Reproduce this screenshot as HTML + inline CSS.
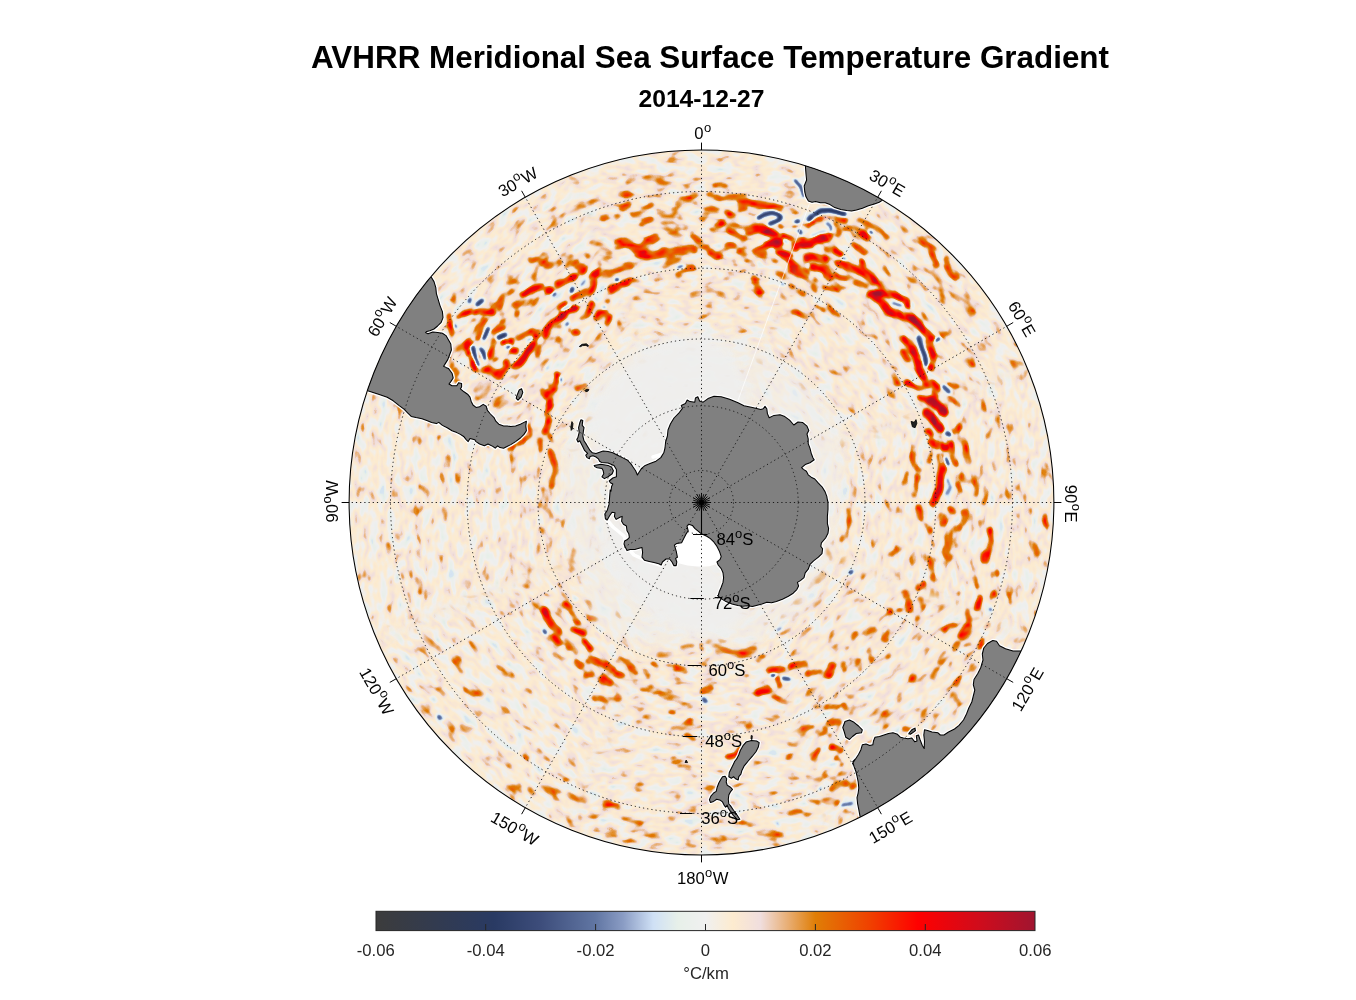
<!DOCTYPE html>
<html><head><meta charset="utf-8"><title>AVHRR Meridional Sea Surface Temperature Gradient</title>
<style>html,body{margin:0;padding:0;background:#fff;}body{width:1356px;height:1000px;overflow:hidden;position:relative;font-family:"Liberation Sans", sans-serif;}svg{position:absolute;left:0;top:0;}text{font-family:"Liberation Sans", sans-serif;}</style></head><body>
<svg width="1356" height="1000" viewBox="0 0 1356 1000">
<defs>
<clipPath id="cc"><circle cx="701.5" cy="502.5" r="352.4"/></clipPath>
<filter id="field" filterUnits="userSpaceOnUse" x="340" y="140" width="724" height="724" color-interpolation-filters="sRGB">
<feGaussianBlur in="SourceGraphic" stdDeviation="1.6" result="s"/>
<feTurbulence type="fractalNoise" baseFrequency="0.06 0.115" numOctaves="2" seed="7" result="t"/>
<feColorMatrix in="t" type="matrix" values="1 0 0 0 0 1 0 0 0 0 1 0 0 0 0 0 0 0 0 1" result="n0"/>
<feComponentTransfer in="n0" result="n"><feFuncR type="table" tableValues="0.139 0.142 0.145 0.148 0.151 0.154 0.157 0.160 0.164 0.167 0.198 0.230 0.262 0.286 0.303 0.321 0.338 0.355 0.372 0.389 0.407 0.426 0.444 0.463 0.481 0.500 0.516 0.532 0.549 0.565 0.581 0.597 0.619 0.640 0.661 0.698 0.736 0.773 0.808 0.839 0.871 0.903 0.903 0.903 0.903 0.903 0.903 0.903 0.903 0.903 0.903"/><feFuncG type="table" tableValues="0.139 0.142 0.145 0.148 0.151 0.154 0.157 0.160 0.164 0.167 0.198 0.230 0.262 0.286 0.303 0.321 0.338 0.355 0.372 0.389 0.407 0.426 0.444 0.463 0.481 0.500 0.516 0.532 0.549 0.565 0.581 0.597 0.619 0.640 0.661 0.698 0.736 0.773 0.808 0.839 0.871 0.903 0.903 0.903 0.903 0.903 0.903 0.903 0.903 0.903 0.903"/><feFuncB type="table" tableValues="0.139 0.142 0.145 0.148 0.151 0.154 0.157 0.160 0.164 0.167 0.198 0.230 0.262 0.286 0.303 0.321 0.338 0.355 0.372 0.389 0.407 0.426 0.444 0.463 0.481 0.500 0.516 0.532 0.549 0.565 0.581 0.597 0.619 0.640 0.661 0.698 0.736 0.773 0.808 0.839 0.871 0.903 0.903 0.903 0.903 0.903 0.903 0.903 0.903 0.903 0.903"/></feComponentTransfer>
<feComposite in="s" in2="n" operator="arithmetic" k1="1.0" k2="0.5000" k3="-0.2000" k4="0.1320" result="f"/>
<feComponentTransfer in="f"><feFuncR type="table" tableValues="0.235 0.231 0.227 0.222 0.218 0.214 0.209 0.205 0.201 0.196 0.192 0.188 0.183 0.179 0.175 0.170 0.166 0.162 0.170 0.182 0.193 0.205 0.216 0.228 0.239 0.257 0.275 0.292 0.310 0.327 0.345 0.363 0.380 0.421 0.461 0.501 0.541 0.603 0.664 0.726 0.787 0.827 0.854 0.880 0.906 0.915 0.924 0.932 0.941 0.954 0.967 0.979 0.992 0.979 0.967 0.954 0.941 0.933 0.925 0.918 0.910 0.902 0.894 0.886 0.878 0.886 0.894 0.902 0.910 0.918 0.925 0.933 0.941 0.950 0.958 0.967 0.975 0.983 0.992 0.999 0.978 0.958 0.937 0.916 0.895 0.874 0.853 0.833 0.812 0.789 0.766 0.743 0.720 0.697 0.674 0.650 0.627"/><feFuncG type="table" tableValues="0.235 0.235 0.234 0.234 0.233 0.233 0.233 0.232 0.232 0.231 0.231 0.230 0.230 0.229 0.229 0.228 0.228 0.228 0.236 0.247 0.258 0.269 0.280 0.291 0.302 0.322 0.342 0.362 0.382 0.402 0.423 0.443 0.463 0.500 0.537 0.575 0.612 0.672 0.733 0.794 0.854 0.889 0.906 0.924 0.941 0.941 0.941 0.941 0.941 0.936 0.931 0.926 0.922 0.909 0.896 0.883 0.871 0.824 0.776 0.729 0.682 0.635 0.588 0.541 0.494 0.464 0.433 0.403 0.373 0.342 0.312 0.281 0.251 0.215 0.179 0.143 0.107 0.071 0.035 0.000 0.005 0.011 0.016 0.021 0.026 0.031 0.037 0.042 0.047 0.051 0.056 0.060 0.065 0.069 0.074 0.078 0.082"/><feFuncB type="table" tableValues="0.235 0.244 0.253 0.262 0.271 0.280 0.289 0.298 0.306 0.315 0.324 0.333 0.342 0.351 0.360 0.369 0.378 0.386 0.399 0.413 0.427 0.441 0.455 0.469 0.482 0.502 0.522 0.541 0.561 0.580 0.600 0.620 0.639 0.672 0.704 0.736 0.769 0.812 0.856 0.900 0.943 0.953 0.940 0.927 0.914 0.921 0.927 0.934 0.941 0.909 0.876 0.844 0.812 0.826 0.841 0.856 0.871 0.767 0.663 0.559 0.455 0.347 0.239 0.131 0.024 0.021 0.018 0.015 0.012 0.009 0.006 0.003 0.000 0.000 0.000 0.000 0.000 0.000 0.000 0.000 0.013 0.025 0.037 0.049 0.061 0.073 0.086 0.098 0.110 0.120 0.129 0.139 0.149 0.159 0.169 0.178 0.188"/></feComponentTransfer>
</filter>
<filter id="wb" filterUnits="userSpaceOnUse" x="340" y="140" width="724" height="724"><feGaussianBlur stdDeviation="7"/></filter>
<filter id="qb" filterUnits="userSpaceOnUse" x="340" y="140" width="724" height="724"><feGaussianBlur stdDeviation="5"/></filter>
<linearGradient id="cb" x1="0" x2="1" y1="0" y2="0">
<stop offset="0.0000" stop-color="#3c3c3c"/>
<stop offset="0.1792" stop-color="#293a63"/>
<stop offset="0.2500" stop-color="#3d4d7b"/>
<stop offset="0.3333" stop-color="#6176a3"/>
<stop offset="0.3750" stop-color="#8a9cc4"/>
<stop offset="0.4208" stop-color="#cfe0f5"/>
<stop offset="0.4583" stop-color="#e7f0e9"/>
<stop offset="0.5000" stop-color="#f0f0f0"/>
<stop offset="0.5417" stop-color="#fdebcf"/>
<stop offset="0.5833" stop-color="#f0dede"/>
<stop offset="0.6250" stop-color="#e8ae74"/>
<stop offset="0.6667" stop-color="#e07e06"/>
<stop offset="0.7500" stop-color="#f04000"/>
<stop offset="0.8225" stop-color="#ff0000"/>
<stop offset="0.9167" stop-color="#cf0c1c"/>
<stop offset="1.0000" stop-color="#a01530"/>
</linearGradient></defs>
<g clip-path="url(#cc)">
<defs><g id="src">
<rect x="340" y="140" width="724" height="724" fill="#808080"/>
<path d="M701.5,157.2 L876.5,199.1 L1004.6,327.2 L1051.5,502.2 L995.9,672.2 L869.0,792.3 L701.5,852.2 L583.5,826.4 L558.1,707.0 L515.3,609.7 L486.5,502.2 L485.4,423.5 L476.3,372.2 L448.7,290.1 L531.5,207.8Z M701.5,317.2 L786.5,355.0 L844.4,419.7 L851.5,502.2 L831.4,577.2 L776.5,632.1 L701.5,652.2 L621.5,640.8 L580.3,572.2 L556.5,502.2 L558.6,419.7 L606.5,337.7Z" fill="#828282" fill-rule="evenodd"/>
<path d="M561.1,216.1 L571.9,211.6 L584.5,206.2" fill="none" stroke="#9e9e9e" stroke-width="4" stroke-linecap="round" stroke-linejoin="round"/>
<path d="M541.2,213.1 L548.5,209.8 L555.7,208.4" fill="none" stroke="#9c9c9c" stroke-width="3" stroke-linecap="round" stroke-linejoin="round"/>
<path d="M518.7,226.9 L522.3,223.3 L525.0,219.7" fill="none" stroke="#9f9f9f" stroke-width="3" stroke-linecap="round" stroke-linejoin="round"/>
<path d="M533.1,229.6 L537.6,227.5" fill="none" stroke="#9c9c9c" stroke-width="3" stroke-linecap="round" stroke-linejoin="round"/>
<path d="M460.2,267.4 L464.7,262.9 L469.2,260.2" fill="none" stroke="#9e9e9e" stroke-width="4" stroke-linecap="round" stroke-linejoin="round"/>
<path d="M498.9,250.3 L503.4,247.3" fill="none" stroke="#9c9c9c" stroke-width="3" stroke-linecap="round" stroke-linejoin="round"/>
<path d="M504.3,289.0 L507.9,283.6 L514.2,281.5 L518.7,282.7" fill="none" stroke="#a3a3a3" stroke-width="4" stroke-linecap="round" stroke-linejoin="round"/>
<path d="M612.0,291.7 L621.0,285.1 L630.9,280.0" fill="none" stroke="#b4b4b4" stroke-width="5" stroke-linecap="round" stroke-linejoin="round"/>
<path d="M794.8,180.1 L800.7,186.8 L803.8,196.3" fill="none" stroke="#1d1d1d" stroke-width="2.5" stroke-linecap="round" stroke-linejoin="round"/>
<path d="M691.2,294.8 L700.2,293.0 L711.0,290.5 L721.8,294.8 L728.1,299.5" fill="none" stroke="#9a9a9a" stroke-width="5" stroke-linecap="round" stroke-linejoin="round"/>
<path d="M733.5,300.2 L740.2,298.0" fill="none" stroke="#9e9e9e" stroke-width="4" stroke-linecap="round" stroke-linejoin="round"/>
<path d="M781.2,294.4 L786.7,302.0" fill="none" stroke="#9e9e9e" stroke-width="4" stroke-linecap="round" stroke-linejoin="round"/>
<path d="M793.9,312.4 L801.1,314.6 L806.8,317.5" fill="none" stroke="#b4b4b4" stroke-width="5" stroke-linecap="round" stroke-linejoin="round"/>
<path d="M816.4,306.1 L822.7,310.6" fill="none" stroke="#b4b4b4" stroke-width="5" stroke-linecap="round" stroke-linejoin="round"/>
<path d="M859.2,220.3 L867.3,224.2 L877.2,228.2 L887.1,237.7" fill="none" stroke="#a6a6a6" stroke-width="5" stroke-linecap="round" stroke-linejoin="round"/>
<path d="M870.0,231.4 L871.8,232.9" fill="none" stroke="#1e1e1e" stroke-width="3.0" stroke-linecap="round" stroke-linejoin="round"/>
<path d="M860.1,232.3 L867.3,238.3" fill="none" stroke="#cfcfcf" stroke-width="5" stroke-linecap="round" stroke-linejoin="round"/>
<path d="M842.1,230.5 L852.0,226.9 L859.2,230.5" fill="none" stroke="#a8a8a8" stroke-width="4" stroke-linecap="round" stroke-linejoin="round"/>
<path d="M834.0,250.3 L840.3,253.9" fill="none" stroke="#dcdcdc" stroke-width="6" stroke-linecap="round" stroke-linejoin="round"/>
<path d="M843.0,258.4 L844.8,260.2" fill="none" stroke="#1e1e1e" stroke-width="3.0" stroke-linecap="round" stroke-linejoin="round"/>
<path d="M852.0,244.4 L861.0,249.1 L865.0,253.4" fill="none" stroke="#c3c3c3" stroke-width="5" stroke-linecap="round" stroke-linejoin="round"/>
<path d="M837.6,262.9 L839.4,264.7" fill="none" stroke="#d8d8d8" stroke-width="5" stroke-linecap="round" stroke-linejoin="round"/>
<path d="M842.1,263.8 L852.9,269.2 L862.8,271.4 L870.0,276.8 L873.6,280.9" fill="none" stroke="#c6c6c6" stroke-width="8" stroke-linecap="round" stroke-linejoin="round"/>
<path d="M861.9,261.1 L863.2,269.2" fill="none" stroke="#c3c3c3" stroke-width="5" stroke-linecap="round" stroke-linejoin="round"/>
<path d="M825.0,275.5 L830.4,277.3" fill="none" stroke="#cfcfcf" stroke-width="5" stroke-linecap="round" stroke-linejoin="round"/>
<path d="M835.8,275.5 L844.8,279.1" fill="none" stroke="#b4b4b4" stroke-width="5" stroke-linecap="round" stroke-linejoin="round"/>
<path d="M855.6,282.7 L866.4,285.8" fill="none" stroke="#b4b4b4" stroke-width="5" stroke-linecap="round" stroke-linejoin="round"/>
<path d="M825.0,287.6 L835.8,289.4 L848.4,287.2" fill="none" stroke="#a8a8a8" stroke-width="4" stroke-linecap="round" stroke-linejoin="round"/>
<path d="M884.4,267.8 L889.5,275.0" fill="none" stroke="#a6a6a6" stroke-width="5" stroke-linecap="round" stroke-linejoin="round"/>
<path d="M879.0,284.0 L886.2,291.2 L894.3,293.0" fill="none" stroke="#a6a6a6" stroke-width="5" stroke-linecap="round" stroke-linejoin="round"/>
<path d="M870.0,294.4 L882.6,293.5 L897.0,295.9 L906.0,299.8 L908.2,305.2" fill="none" stroke="#dcdcdc" stroke-width="6" stroke-linecap="round" stroke-linejoin="round"/>
<path d="M874.5,297.1 L884.4,305.6 L888.9,311.5 L900.6,314.6 L911.4,318.2 L919.5,325.0" fill="none" stroke="#dddddd" stroke-width="7" stroke-linecap="round" stroke-linejoin="round"/>
<path d="M892.5,303.1 L901.5,305.6" fill="none" stroke="#3e3e3e" stroke-width="3.0" stroke-linecap="round" stroke-linejoin="round"/>
<path d="M911.4,303.4 L912.3,307.0" fill="none" stroke="#3e3e3e" stroke-width="2.5" stroke-linecap="round" stroke-linejoin="round"/>
<path d="M904.2,226.9 L907.8,231.4" fill="none" stroke="#989898" stroke-width="7" stroke-linecap="round" stroke-linejoin="round"/>
<path d="M911.4,240.4 L922.2,243.7 L931.2,246.2 L936.6,249.8" fill="none" stroke="#a4a4a4" stroke-width="5" stroke-linecap="round" stroke-linejoin="round"/>
<path d="M931.2,250.3 L933.0,257.5 L936.3,264.7" fill="none" stroke="#b6b6b6" stroke-width="6" stroke-linecap="round" stroke-linejoin="round"/>
<path d="M946.0,259.3 L947.4,269.2 L951.0,276.4 L956.1,278.6" fill="none" stroke="#b9b9b9" stroke-width="6" stroke-linecap="round" stroke-linejoin="round"/>
<path d="M933.0,271.0 L940.2,282.2 L942.0,294.4 L943.8,303.4" fill="none" stroke="#989898" stroke-width="5" stroke-linecap="round" stroke-linejoin="round"/>
<path d="M921.3,283.6 L925.8,289.9" fill="none" stroke="#9e9e9e" stroke-width="4" stroke-linecap="round" stroke-linejoin="round"/>
<path d="M951.9,285.4 L953.7,288.1" fill="none" stroke="#9f9f9f" stroke-width="5" stroke-linecap="round" stroke-linejoin="round"/>
<path d="M965.4,296.2 L967.2,305.2 L971.7,312.4" fill="none" stroke="#9c9c9c" stroke-width="8" stroke-linecap="round" stroke-linejoin="round"/>
<path d="M952.8,295.9 L959.1,300.2" fill="none" stroke="#9a9a9a" stroke-width="5" stroke-linecap="round" stroke-linejoin="round"/>
<path d="M894.3,216.1 L898.8,217.0" fill="none" stroke="#989898" stroke-width="4" stroke-linecap="round" stroke-linejoin="round"/>
<path d="M829.5,307.0 L837.6,315.1" fill="none" stroke="#a6a6a6" stroke-width="5" stroke-linecap="round" stroke-linejoin="round"/>
<path d="M862.8,313.3 L863.7,323.2" fill="none" stroke="#a3a3a3" stroke-width="4" stroke-linecap="round" stroke-linejoin="round"/>
<path d="M922.2,311.5 L924.0,315.1" fill="none" stroke="#a3a3a3" stroke-width="4" stroke-linecap="round" stroke-linejoin="round"/>
<path d="M570.1,329.5 L577.3,332.6" fill="none" stroke="#bfbfbf" stroke-width="6" stroke-linecap="round" stroke-linejoin="round"/>
<path d="M543.0,392.0 L548.5,397.4 L550.3,406.0 L547.6,415.0 L548.5,424.4 L544.8,431.6" fill="none" stroke="#c6c6c6" stroke-width="6" stroke-linecap="round" stroke-linejoin="round"/>
<path d="M539.4,440.2 L540.3,449.6" fill="none" stroke="#aeaeae" stroke-width="5" stroke-linecap="round" stroke-linejoin="round"/>
<path d="M548.5,433.4 L552.1,440.6" fill="none" stroke="#b4b4b4" stroke-width="4" stroke-linecap="round" stroke-linejoin="round"/>
<path d="M550.3,451.0 L553.9,462.2 L556.6,469.4 L553.5,476.6 L552.1,485.6" fill="none" stroke="#b1b1b1" stroke-width="6" stroke-linecap="round" stroke-linejoin="round"/>
<path d="M543.9,489.7 L547.6,505.0" fill="none" stroke="#9f9f9f" stroke-width="5" stroke-linecap="round" stroke-linejoin="round"/>
<path d="M577.3,388.9 L585.0,384.8" fill="none" stroke="#b4b4b4" stroke-width="4" stroke-linecap="round" stroke-linejoin="round"/>
<path d="M477.3,397.9 L481.8,396.1" fill="none" stroke="#ababab" stroke-width="6" stroke-linecap="round" stroke-linejoin="round"/>
<path d="M471.0,379.0 L481.8,386.2 L489.0,384.4" fill="none" stroke="#8e8e8e" stroke-width="12" stroke-linecap="round" stroke-linejoin="round"/>
<path d="M496.2,404.2 L507.0,402.4 L517.8,405.1" fill="none" stroke="#8e8e8e" stroke-width="10" stroke-linecap="round" stroke-linejoin="round"/>
<path d="M528.6,425.8 L530.4,435.2 L522.3,442.0 L507.9,449.2" fill="none" stroke="#b4b4b4" stroke-width="4" stroke-linecap="round" stroke-linejoin="round"/>
<path d="M449.8,457.9 L448.5,465.8" fill="none" stroke="#9a9a9a" stroke-width="5" stroke-linecap="round" stroke-linejoin="round"/>
<path d="M467.1,462.7 L468.3,467.2" fill="none" stroke="#9e9e9e" stroke-width="4" stroke-linecap="round" stroke-linejoin="round"/>
<path d="M421.5,487.0 L426.0,491.5" fill="none" stroke="#989898" stroke-width="5" stroke-linecap="round" stroke-linejoin="round"/>
<path d="M456.3,474.4 L457.5,482.0" fill="none" stroke="#9b9b9b" stroke-width="4" stroke-linecap="round" stroke-linejoin="round"/>
<path d="M437.7,437.5 L444.0,435.2" fill="none" stroke="#9b9b9b" stroke-width="4" stroke-linecap="round" stroke-linejoin="round"/>
<path d="M449.4,436.6 L451.2,447.8" fill="none" stroke="#656565" stroke-width="3.0" stroke-linecap="round" stroke-linejoin="round"/>
<path d="M918.6,325.0 L925.8,332.2 L931.6,338.0" fill="none" stroke="#dddddd" stroke-width="7" stroke-linecap="round" stroke-linejoin="round"/>
<path d="M918.6,337.6 L921.3,347.0 L924.9,356.0 L926.2,365.0" fill="none" stroke="#212121" stroke-width="4.0" stroke-linecap="round" stroke-linejoin="round"/>
<path d="M935.7,340.8 L939.3,338.5" fill="none" stroke="#1e1e1e" stroke-width="3.0" stroke-linecap="round" stroke-linejoin="round"/>
<path d="M928.0,341.6 L931.6,350.6 L933.4,359.6 L930.9,367.9" fill="none" stroke="#cacaca" stroke-width="6" stroke-linecap="round" stroke-linejoin="round"/>
<path d="M904.2,339.0 L910.0,343.0 L913.6,350.6 L917.2,359.6 L919.0,368.2 L923.7,377.6" fill="none" stroke="#cbcbcb" stroke-width="7" stroke-linecap="round" stroke-linejoin="round"/>
<path d="M902.4,352.0 L908.2,359.6" fill="none" stroke="#c3c3c3" stroke-width="5" stroke-linecap="round" stroke-linejoin="round"/>
<path d="M906.9,382.6 L915.0,386.6 L920.8,388.9" fill="none" stroke="#cfcfcf" stroke-width="5" stroke-linecap="round" stroke-linejoin="round"/>
<path d="M925.8,384.8 L933.0,383.0 L937.0,387.1 L935.2,395.6" fill="none" stroke="#bdbdbd" stroke-width="7" stroke-linecap="round" stroke-linejoin="round"/>
<path d="M893.4,375.4 L897.4,383.0" fill="none" stroke="#a6a6a6" stroke-width="5" stroke-linecap="round" stroke-linejoin="round"/>
<path d="M930.3,400.3 L938.4,406.4 L943.5,412.3" fill="none" stroke="#e1e1e1" stroke-width="8" stroke-linecap="round" stroke-linejoin="round"/>
<path d="M919.5,397.4 L925.8,399.2" fill="none" stroke="#c3c3c3" stroke-width="5" stroke-linecap="round" stroke-linejoin="round"/>
<path d="M943.5,386.6 L949.2,392.0" fill="none" stroke="#2f2f2f" stroke-width="4.0" stroke-linecap="round" stroke-linejoin="round"/>
<path d="M948.9,383.0 L956.8,387.1" fill="none" stroke="#cbcbcb" stroke-width="4" stroke-linecap="round" stroke-linejoin="round"/>
<path d="M949.2,397.4 L956.4,402.8 L959.1,406.4" fill="none" stroke="#bababa" stroke-width="4" stroke-linecap="round" stroke-linejoin="round"/>
<path d="M926.7,412.9 L934.8,420.4 L940.6,428.0" fill="none" stroke="#e1e1e1" stroke-width="8" stroke-linecap="round" stroke-linejoin="round"/>
<path d="M928.0,431.2 L931.2,435.2" fill="none" stroke="#cfcfcf" stroke-width="5" stroke-linecap="round" stroke-linejoin="round"/>
<path d="M931.2,442.0 L937.5,445.3 L944.2,447.8" fill="none" stroke="#d0d0d0" stroke-width="7" stroke-linecap="round" stroke-linejoin="round"/>
<path d="M947.1,433.4 L949.6,434.5" fill="none" stroke="#212121" stroke-width="4.0" stroke-linecap="round" stroke-linejoin="round"/>
<path d="M953.7,431.2 L959.7,427.3" fill="none" stroke="#b1b1b1" stroke-width="6" stroke-linecap="round" stroke-linejoin="round"/>
<path d="M961.8,438.8 L967.2,446.0 L965.8,455.0 L969.4,462.2" fill="none" stroke="#a4a4a4" stroke-width="6" stroke-linecap="round" stroke-linejoin="round"/>
<path d="M951.0,444.2 L952.8,455.0 L956.8,464.0" fill="none" stroke="#b1b1b1" stroke-width="6" stroke-linecap="round" stroke-linejoin="round"/>
<path d="M945.3,458.2 L948.3,464.5" fill="none" stroke="#1e1e1e" stroke-width="3.0" stroke-linecap="round" stroke-linejoin="round"/>
<path d="M940.2,456.4 L942.4,469.0 L939.5,479.8 L940.2,487.4 L936.6,496.4 L933.0,503.6" fill="none" stroke="#cbcbcb" stroke-width="7" stroke-linecap="round" stroke-linejoin="round"/>
<path d="M947.4,479.5 L951.0,487.0 L946.0,494.2" fill="none" stroke="#4f4f4f" stroke-width="3.0" stroke-linecap="round" stroke-linejoin="round"/>
<path d="M913.2,455.0 L915.0,465.8 L919.0,469.4" fill="none" stroke="#ababab" stroke-width="6" stroke-linecap="round" stroke-linejoin="round"/>
<path d="M906.4,474.1 L904.2,482.0" fill="none" stroke="#a6a6a6" stroke-width="6" stroke-linecap="round" stroke-linejoin="round"/>
<path d="M917.2,476.6 L916.8,489.2 L915.0,494.6" fill="none" stroke="#a6a6a6" stroke-width="6" stroke-linecap="round" stroke-linejoin="round"/>
<path d="M931.6,454.6 L929.4,462.2" fill="none" stroke="#a3a3a3" stroke-width="4" stroke-linecap="round" stroke-linejoin="round"/>
<path d="M961.5,475.9 L965.8,482.0" fill="none" stroke="#a6a6a6" stroke-width="6" stroke-linecap="round" stroke-linejoin="round"/>
<path d="M958.2,484.3 L962.2,491.0" fill="none" stroke="#a4a4a4" stroke-width="5" stroke-linecap="round" stroke-linejoin="round"/>
<path d="M972.6,481.6 L978.0,485.6 L976.2,494.6" fill="none" stroke="#a4a4a4" stroke-width="5" stroke-linecap="round" stroke-linejoin="round"/>
<path d="M983.8,487.0 L987.0,494.6 L983.8,503.2" fill="none" stroke="#a4a4a4" stroke-width="5" stroke-linecap="round" stroke-linejoin="round"/>
<path d="M964.5,343.9 L969.0,348.4" fill="none" stroke="#9d9d9d" stroke-width="6" stroke-linecap="round" stroke-linejoin="round"/>
<path d="M966.3,360.1 L971.2,365.0" fill="none" stroke="#9d9d9d" stroke-width="6" stroke-linecap="round" stroke-linejoin="round"/>
<path d="M1012.6,362.4 L1014.9,368.6" fill="none" stroke="#9d9d9d" stroke-width="6" stroke-linecap="round" stroke-linejoin="round"/>
<path d="M963.3,384.1 L965.8,388.4" fill="none" stroke="#9a9a9a" stroke-width="5" stroke-linecap="round" stroke-linejoin="round"/>
<path d="M981.3,400.6 L983.4,410.0" fill="none" stroke="#9a9a9a" stroke-width="5" stroke-linecap="round" stroke-linejoin="round"/>
<path d="M992.4,411.8 L995.1,418.6" fill="none" stroke="#9a9a9a" stroke-width="5" stroke-linecap="round" stroke-linejoin="round"/>
<path d="M983.4,422.6 L990.3,428.0 L987.4,437.0" fill="none" stroke="#9f9f9f" stroke-width="5" stroke-linecap="round" stroke-linejoin="round"/>
<path d="M992.4,462.2 L994.2,469.4" fill="none" stroke="#9a9a9a" stroke-width="5" stroke-linecap="round" stroke-linejoin="round"/>
<path d="M1046.5,464.0 L1048.3,469.0" fill="none" stroke="#9b9b9b" stroke-width="4" stroke-linecap="round" stroke-linejoin="round"/>
<path d="M865.5,335.4 L877.2,338.0" fill="none" stroke="#9e9e9e" stroke-width="4" stroke-linecap="round" stroke-linejoin="round"/>
<path d="M942.9,334.9 L949.2,332.6" fill="none" stroke="#a6a6a6" stroke-width="5" stroke-linecap="round" stroke-linejoin="round"/>
<path d="M895.6,333.1 L900.6,339.8" fill="none" stroke="#a3a3a3" stroke-width="4" stroke-linecap="round" stroke-linejoin="round"/>
<path d="M443.7,507.7 L445.8,520.3" fill="none" stroke="#9e9e9e" stroke-width="4" stroke-linecap="round" stroke-linejoin="round"/>
<path d="M420.6,511.3 L424.2,506.8" fill="none" stroke="#9b9b9b" stroke-width="4" stroke-linecap="round" stroke-linejoin="round"/>
<path d="M393.3,532.0 L397.2,539.6" fill="none" stroke="#969696" stroke-width="5" stroke-linecap="round" stroke-linejoin="round"/>
<path d="M388.2,544.2 L389.1,552.2" fill="none" stroke="#9a9a9a" stroke-width="5" stroke-linecap="round" stroke-linejoin="round"/>
<path d="M417.9,550.0 L418.8,559.0" fill="none" stroke="#9b9b9b" stroke-width="4" stroke-linecap="round" stroke-linejoin="round"/>
<path d="M398.7,573.1 L404.8,579.2" fill="none" stroke="#9e9e9e" stroke-width="4" stroke-linecap="round" stroke-linejoin="round"/>
<path d="M417.9,578.8 L420.6,586.0 L418.8,591.8" fill="none" stroke="#999999" stroke-width="6" stroke-linecap="round" stroke-linejoin="round"/>
<path d="M408.0,609.4 L410.7,617.0" fill="none" stroke="#a4a4a4" stroke-width="5" stroke-linecap="round" stroke-linejoin="round"/>
<path d="M417.0,631.0 L426.0,638.6 L435.0,644.0 L442.2,651.2" fill="none" stroke="#999999" stroke-width="6" stroke-linecap="round" stroke-linejoin="round"/>
<path d="M448.5,622.0 L450.3,627.8" fill="none" stroke="#9b9b9b" stroke-width="4" stroke-linecap="round" stroke-linejoin="round"/>
<path d="M467.1,581.5 L467.8,588.2" fill="none" stroke="#989898" stroke-width="5" stroke-linecap="round" stroke-linejoin="round"/>
<path d="M497.1,601.3 L498.9,605.8" fill="none" stroke="#989898" stroke-width="5" stroke-linecap="round" stroke-linejoin="round"/>
<path d="M471.0,641.8 L476.4,651.2" fill="none" stroke="#9a9a9a" stroke-width="5" stroke-linecap="round" stroke-linejoin="round"/>
<path d="M456.6,661.6 L462.0,671.0" fill="none" stroke="#9d9d9d" stroke-width="6" stroke-linecap="round" stroke-linejoin="round"/>
<path d="M503.4,673.9 L511.5,676.0" fill="none" stroke="#9a9a9a" stroke-width="5" stroke-linecap="round" stroke-linejoin="round"/>
<path d="M504.3,658.9 L506.1,661.3" fill="none" stroke="#9b9b9b" stroke-width="4" stroke-linecap="round" stroke-linejoin="round"/>
<path d="M438.6,679.3 L442.2,685.0" fill="none" stroke="#9a9a9a" stroke-width="5" stroke-linecap="round" stroke-linejoin="round"/>
<path d="M528.6,563.5 L529.0,570.7" fill="none" stroke="#9a9a9a" stroke-width="5" stroke-linecap="round" stroke-linejoin="round"/>
<path d="M520.5,586.0 L527.2,586.9" fill="none" stroke="#9a9a9a" stroke-width="5" stroke-linecap="round" stroke-linejoin="round"/>
<path d="M536.7,540.6 L539.8,554.0" fill="none" stroke="#9a9a9a" stroke-width="5" stroke-linecap="round" stroke-linejoin="round"/>
<path d="M550.3,510.4 L556.0,519.8" fill="none" stroke="#9d9d9d" stroke-width="6" stroke-linecap="round" stroke-linejoin="round"/>
<path d="M541.2,528.4 L548.5,537.8" fill="none" stroke="#9a9a9a" stroke-width="5" stroke-linecap="round" stroke-linejoin="round"/>
<path d="M574.0,551.5 L570.1,563.0 L571.9,570.2" fill="none" stroke="#9f9f9f" stroke-width="5" stroke-linecap="round" stroke-linejoin="round"/>
<path d="M578.2,577.9 L580.0,582.4" fill="none" stroke="#9a9a9a" stroke-width="5" stroke-linecap="round" stroke-linejoin="round"/>
<path d="M558.9,583.3 L561.1,587.8" fill="none" stroke="#9e9e9e" stroke-width="4" stroke-linecap="round" stroke-linejoin="round"/>
<path d="M544.8,594.7 L549.4,595.9" fill="none" stroke="#9e9e9e" stroke-width="4" stroke-linecap="round" stroke-linejoin="round"/>
<path d="M533.7,609.4 L534.4,613.9" fill="none" stroke="#9e9e9e" stroke-width="4" stroke-linecap="round" stroke-linejoin="round"/>
<path d="M520.5,612.1 L522.3,615.7" fill="none" stroke="#9b9b9b" stroke-width="4" stroke-linecap="round" stroke-linejoin="round"/>
<path d="M544.8,610.3 L548.5,620.2 L553.9,627.8 L557.5,631.4" fill="none" stroke="#bfbfbf" stroke-width="8" stroke-linecap="round" stroke-linejoin="round"/>
<path d="M565.6,604.9 L569.2,607.6" fill="none" stroke="#bfbfbf" stroke-width="6" stroke-linecap="round" stroke-linejoin="round"/>
<path d="M572.2,612.7 L577.6,622.4" fill="none" stroke="#b9b9b9" stroke-width="6" stroke-linecap="round" stroke-linejoin="round"/>
<path d="M572.8,629.2 L583.6,633.2" fill="none" stroke="#c3c3c3" stroke-width="5" stroke-linecap="round" stroke-linejoin="round"/>
<path d="M555.7,637.3 L559.3,642.2" fill="none" stroke="#c6c6c6" stroke-width="8" stroke-linecap="round" stroke-linejoin="round"/>
<path d="M565.0,642.7 L568.3,647.6" fill="none" stroke="#c0c0c0" stroke-width="7" stroke-linecap="round" stroke-linejoin="round"/>
<path d="M543.9,630.7 L545.8,633.2" fill="none" stroke="#1e1e1e" stroke-width="3.0" stroke-linecap="round" stroke-linejoin="round"/>
<path d="M574.6,597.7 L576.4,599.5" fill="none" stroke="#585858" stroke-width="2.5" stroke-linecap="round" stroke-linejoin="round"/>
<path d="M553.0,654.8 L565.6,658.4" fill="none" stroke="#a9a9a9" stroke-width="5" stroke-linecap="round" stroke-linejoin="round"/>
<path d="M576.4,663.1 L580.0,665.6" fill="none" stroke="#bdbdbd" stroke-width="7" stroke-linecap="round" stroke-linejoin="round"/>
<path d="M572.8,649.0 L577.3,653.0" fill="none" stroke="#a8a8a8" stroke-width="4" stroke-linecap="round" stroke-linejoin="round"/>
<path d="M681.3,648.1 L693.0,645.4" fill="none" stroke="#a4a4a4" stroke-width="5" stroke-linecap="round" stroke-linejoin="round"/>
<path d="M701.1,646.3 L702.9,648.1" fill="none" stroke="#b6b6b6" stroke-width="6" stroke-linecap="round" stroke-linejoin="round"/>
<path d="M709.2,643.3 L718.2,649.0 L729.0,651.2 L738.0,654.8 L747.0,651.2 L754.2,649.0" fill="none" stroke="#aaaaaa" stroke-width="7" stroke-linecap="round" stroke-linejoin="round"/>
<path d="M658.8,655.3 L671.4,654.1" fill="none" stroke="#9f9f9f" stroke-width="5" stroke-linecap="round" stroke-linejoin="round"/>
<path d="M676.8,667.9 L685.8,671.0" fill="none" stroke="#ababab" stroke-width="6" stroke-linecap="round" stroke-linejoin="round"/>
<path d="M653.1,663.4 L657.0,667.9" fill="none" stroke="#a9a9a9" stroke-width="5" stroke-linecap="round" stroke-linejoin="round"/>
<path d="M585.0,642.2 L590.4,649.0" fill="none" stroke="#bfbfbf" stroke-width="6" stroke-linecap="round" stroke-linejoin="round"/>
<path d="M589.5,660.2 L600.3,662.0" fill="none" stroke="#b7b7b7" stroke-width="7" stroke-linecap="round" stroke-linejoin="round"/>
<path d="M606.2,664.9 L612.4,669.2" fill="none" stroke="#c4c4c4" stroke-width="7" stroke-linecap="round" stroke-linejoin="round"/>
<path d="M618.8,660.2 L626.8,662.5" fill="none" stroke="#b6b6b6" stroke-width="6" stroke-linecap="round" stroke-linejoin="round"/>
<path d="M630.0,665.6 L635.4,672.8" fill="none" stroke="#b1b1b1" stroke-width="6" stroke-linecap="round" stroke-linejoin="round"/>
<path d="M616.5,674.2 L621.9,676.0" fill="none" stroke="#b1b1b1" stroke-width="6" stroke-linecap="round" stroke-linejoin="round"/>
<path d="M602.6,679.3 L608.8,683.2" fill="none" stroke="#c7c7c7" stroke-width="7" stroke-linecap="round" stroke-linejoin="round"/>
<path d="M644.4,671.0 L648.0,676.4" fill="none" stroke="#a9a9a9" stroke-width="5" stroke-linecap="round" stroke-linejoin="round"/>
<path d="M585.0,676.0 L592.2,674.2" fill="none" stroke="#a9a9a9" stroke-width="5" stroke-linecap="round" stroke-linejoin="round"/>
<path d="M757.5,660.2 L763.2,656.2" fill="none" stroke="#a9a9a9" stroke-width="5" stroke-linecap="round" stroke-linejoin="round"/>
<path d="M769.5,670.3 L782.1,668.8" fill="none" stroke="#c2c2c2" stroke-width="6" stroke-linecap="round" stroke-linejoin="round"/>
<path d="M790.3,665.6 L805.6,664.3" fill="none" stroke="#bfbfbf" stroke-width="6" stroke-linecap="round" stroke-linejoin="round"/>
<path d="M808.3,674.6 L820.0,671.5" fill="none" stroke="#b4b4b4" stroke-width="5" stroke-linecap="round" stroke-linejoin="round"/>
<path d="M772.2,675.1 L775.8,676.0" fill="none" stroke="#212121" stroke-width="4.0" stroke-linecap="round" stroke-linejoin="round"/>
<path d="M783.0,678.2 L789.4,679.3" fill="none" stroke="#1e1e1e" stroke-width="3.0" stroke-linecap="round" stroke-linejoin="round"/>
<path d="M777.3,678.2 L779.4,685.0" fill="none" stroke="#c3c3c3" stroke-width="5" stroke-linecap="round" stroke-linejoin="round"/>
<path d="M796.6,603.1 L805.0,598.6" fill="none" stroke="#a4a4a4" stroke-width="5" stroke-linecap="round" stroke-linejoin="round"/>
<path d="M783.0,616.6 L788.5,615.2 L795.7,613.0" fill="none" stroke="#a2a2a2" stroke-width="6" stroke-linecap="round" stroke-linejoin="round"/>
<path d="M816.4,581.5 L825.0,574.3" fill="none" stroke="#9f9f9f" stroke-width="5" stroke-linecap="round" stroke-linejoin="round"/>
<path d="M807.4,588.7 L812.2,584.2" fill="none" stroke="#9e9e9e" stroke-width="4" stroke-linecap="round" stroke-linejoin="round"/>
<path d="M782.1,633.7 L789.4,629.2" fill="none" stroke="#9f9f9f" stroke-width="5" stroke-linecap="round" stroke-linejoin="round"/>
<path d="M802.0,631.9 L810.1,627.4" fill="none" stroke="#9a9a9a" stroke-width="5" stroke-linecap="round" stroke-linejoin="round"/>
<path d="M777.6,630.1 L781.2,628.3" fill="none" stroke="#3e3e3e" stroke-width="3.0" stroke-linecap="round" stroke-linejoin="round"/>
<path d="M744.3,672.4 L747.0,674.2" fill="none" stroke="#b4b4b4" stroke-width="5" stroke-linecap="round" stroke-linejoin="round"/>
<path d="M594.0,517.6 L599.4,525.2" fill="none" stroke="#9b9b9b" stroke-width="4" stroke-linecap="round" stroke-linejoin="round"/>
<path d="M588.6,602.2 L590.4,609.8" fill="none" stroke="#9a9a9a" stroke-width="5" stroke-linecap="round" stroke-linejoin="round"/>
<path d="M589.5,617.0 L595.8,620.6" fill="none" stroke="#9b9b9b" stroke-width="4" stroke-linecap="round" stroke-linejoin="round"/>
<path d="M847.5,510.4 L848.4,523.0 L844.8,536.0 L842.1,539.6" fill="none" stroke="#a6a6a6" stroke-width="6" stroke-linecap="round" stroke-linejoin="round"/>
<path d="M827.7,550.9 L830.4,559.0" fill="none" stroke="#9f9f9f" stroke-width="5" stroke-linecap="round" stroke-linejoin="round"/>
<path d="M850.2,573.4 L852.0,571.3" fill="none" stroke="#1e1e1e" stroke-width="3.0" stroke-linecap="round" stroke-linejoin="round"/>
<path d="M861.9,577.9 L863.7,575.6" fill="none" stroke="#a3a3a3" stroke-width="4" stroke-linecap="round" stroke-linejoin="round"/>
<path d="M918.6,507.7 L920.4,518.0" fill="none" stroke="#ababab" stroke-width="6" stroke-linecap="round" stroke-linejoin="round"/>
<path d="M926.7,524.4 L929.8,530.6" fill="none" stroke="#a4a4a4" stroke-width="5" stroke-linecap="round" stroke-linejoin="round"/>
<path d="M942.0,515.4 L942.9,523.0" fill="none" stroke="#b1b1b1" stroke-width="6" stroke-linecap="round" stroke-linejoin="round"/>
<path d="M949.2,507.7 L954.6,512.6" fill="none" stroke="#a9a9a9" stroke-width="5" stroke-linecap="round" stroke-linejoin="round"/>
<path d="M964.5,512.2 L967.2,518.0 L959.1,526.6 L951.0,530.2 L947.4,537.8 L949.2,546.8 L943.8,552.2 L948.9,557.6" fill="none" stroke="#aaaaaa" stroke-width="7" stroke-linecap="round" stroke-linejoin="round"/>
<path d="M929.4,558.1 L931.2,568.4 L933.0,576.1" fill="none" stroke="#a9a9a9" stroke-width="5" stroke-linecap="round" stroke-linejoin="round"/>
<path d="M933.0,577.0 L934.5,579.2" fill="none" stroke="#c2c2c2" stroke-width="6" stroke-linecap="round" stroke-linejoin="round"/>
<path d="M935.7,559.0 L942.9,563.0" fill="none" stroke="#9f9f9f" stroke-width="5" stroke-linecap="round" stroke-linejoin="round"/>
<path d="M923.1,583.3 L919.0,588.2" fill="none" stroke="#c6c6c6" stroke-width="6" stroke-linecap="round" stroke-linejoin="round"/>
<path d="M904.2,592.9 L907.8,600.4 L909.6,609.8" fill="none" stroke="#afafaf" stroke-width="7" stroke-linecap="round" stroke-linejoin="round"/>
<path d="M920.1,598.3 L923.1,606.2" fill="none" stroke="#a4a4a4" stroke-width="5" stroke-linecap="round" stroke-linejoin="round"/>
<path d="M887.1,608.0 L890.7,611.6" fill="none" stroke="#a9a9a9" stroke-width="5" stroke-linecap="round" stroke-linejoin="round"/>
<path d="M897.9,609.1 L900.6,610.3" fill="none" stroke="#a8a8a8" stroke-width="4" stroke-linecap="round" stroke-linejoin="round"/>
<path d="M901.5,622.9 L905.1,620.2" fill="none" stroke="#a8a8a8" stroke-width="4" stroke-linecap="round" stroke-linejoin="round"/>
<path d="M885.3,628.3 L884.8,638.6" fill="none" stroke="#afafaf" stroke-width="7" stroke-linecap="round" stroke-linejoin="round"/>
<path d="M865.5,633.7 L869.1,631.0 L874.0,629.2" fill="none" stroke="#ababab" stroke-width="6" stroke-linecap="round" stroke-linejoin="round"/>
<path d="M852.9,637.3 L856.0,633.7" fill="none" stroke="#a9a9a9" stroke-width="5" stroke-linecap="round" stroke-linejoin="round"/>
<path d="M868.2,649.0 L870.9,658.4" fill="none" stroke="#ababab" stroke-width="6" stroke-linecap="round" stroke-linejoin="round"/>
<path d="M858.3,661.3 L859.2,669.2" fill="none" stroke="#ababab" stroke-width="6" stroke-linecap="round" stroke-linejoin="round"/>
<path d="M843.0,663.1 L843.9,669.2" fill="none" stroke="#a9a9a9" stroke-width="5" stroke-linecap="round" stroke-linejoin="round"/>
<path d="M831.3,666.1 L828.6,674.6" fill="none" stroke="#bfbfbf" stroke-width="8" stroke-linecap="round" stroke-linejoin="round"/>
<path d="M844.8,650.8 L847.5,648.1" fill="none" stroke="#a3a3a3" stroke-width="4" stroke-linecap="round" stroke-linejoin="round"/>
<path d="M890.7,554.5 L897.0,550.0 L904.2,547.3" fill="none" stroke="#9f9f9f" stroke-width="5" stroke-linecap="round" stroke-linejoin="round"/>
<path d="M894.9,569.8 L897.0,575.6" fill="none" stroke="#9b9b9b" stroke-width="4" stroke-linecap="round" stroke-linejoin="round"/>
<path d="M989.7,530.2 L990.6,541.0 L987.0,552.2 L983.8,559.0" fill="none" stroke="#ababab" stroke-width="6" stroke-linecap="round" stroke-linejoin="round"/>
<path d="M986.1,553.6 L984.3,559.9" fill="none" stroke="#c0c0c0" stroke-width="7" stroke-linecap="round" stroke-linejoin="round"/>
<path d="M992.4,574.3 L996.9,573.4" fill="none" stroke="#a5a5a5" stroke-width="7" stroke-linecap="round" stroke-linejoin="round"/>
<path d="M974.4,578.5 L976.2,586.4" fill="none" stroke="#a6a6a6" stroke-width="6" stroke-linecap="round" stroke-linejoin="round"/>
<path d="M979.8,597.7 L976.6,608.0" fill="none" stroke="#c2c2c2" stroke-width="6" stroke-linecap="round" stroke-linejoin="round"/>
<path d="M993.9,592.3 L995.1,595.9" fill="none" stroke="#a8a8a8" stroke-width="4" stroke-linecap="round" stroke-linejoin="round"/>
<path d="M1008.6,594.7 L1010.4,602.6" fill="none" stroke="#a3a3a3" stroke-width="4" stroke-linecap="round" stroke-linejoin="round"/>
<path d="M958.2,594.1 L960.9,592.3" fill="none" stroke="#a8a8a8" stroke-width="4" stroke-linecap="round" stroke-linejoin="round"/>
<path d="M989.7,609.1 L991.5,609.8" fill="none" stroke="#2e2e2e" stroke-width="2.5" stroke-linecap="round" stroke-linejoin="round"/>
<path d="M966.9,611.2 L969.0,620.6" fill="none" stroke="#a9a9a9" stroke-width="5" stroke-linecap="round" stroke-linejoin="round"/>
<path d="M968.1,626.5 L961.8,636.8" fill="none" stroke="#c4c4c4" stroke-width="7" stroke-linecap="round" stroke-linejoin="round"/>
<path d="M943.8,629.2 L949.2,624.7 L955.0,624.7" fill="none" stroke="#a9a9a9" stroke-width="5" stroke-linecap="round" stroke-linejoin="round"/>
<path d="M928.5,618.4 L931.2,615.7" fill="none" stroke="#a8a8a8" stroke-width="4" stroke-linecap="round" stroke-linejoin="round"/>
<path d="M915.9,619.3 L917.7,617.5" fill="none" stroke="#a8a8a8" stroke-width="4" stroke-linecap="round" stroke-linejoin="round"/>
<path d="M956.8,643.3 L954.6,649.4" fill="none" stroke="#c2c2c2" stroke-width="6" stroke-linecap="round" stroke-linejoin="round"/>
<path d="M965.4,646.3 L970.8,645.1" fill="none" stroke="#aeaeae" stroke-width="4" stroke-linecap="round" stroke-linejoin="round"/>
<path d="M985.2,628.3 L988.8,624.7" fill="none" stroke="#bababa" stroke-width="4" stroke-linecap="round" stroke-linejoin="round"/>
<path d="M982.5,639.1 L979.8,647.6" fill="none" stroke="#b4b4b4" stroke-width="4" stroke-linecap="round" stroke-linejoin="round"/>
<path d="M945.6,654.4 L940.2,662.0" fill="none" stroke="#a5a5a5" stroke-width="7" stroke-linecap="round" stroke-linejoin="round"/>
<path d="M937.5,669.7 L933.0,678.2" fill="none" stroke="#a6a6a6" stroke-width="6" stroke-linecap="round" stroke-linejoin="round"/>
<path d="M949.2,667.0 L951.0,663.4" fill="none" stroke="#a8a8a8" stroke-width="4" stroke-linecap="round" stroke-linejoin="round"/>
<path d="M911.4,679.6 L914.1,676.9" fill="none" stroke="#a4a4a4" stroke-width="5" stroke-linecap="round" stroke-linejoin="round"/>
<path d="M887.1,658.0 L889.8,655.3" fill="none" stroke="#a3a3a3" stroke-width="4" stroke-linecap="round" stroke-linejoin="round"/>
<path d="M959.7,677.5 L956.4,685.0" fill="none" stroke="#a9a9a9" stroke-width="5" stroke-linecap="round" stroke-linejoin="round"/>
<path d="M1032.1,543.7 L1037.5,552.7" fill="none" stroke="#a5a5a5" stroke-width="7" stroke-linecap="round" stroke-linejoin="round"/>
<path d="M1045.0,516.7 L1046.5,525.2" fill="none" stroke="#a4a4a4" stroke-width="5" stroke-linecap="round" stroke-linejoin="round"/>
<path d="M1030.3,509.5 L1032.1,514.0" fill="none" stroke="#a3a3a3" stroke-width="4" stroke-linecap="round" stroke-linejoin="round"/>
<path d="M1045.0,562.6 L1046.1,568.0" fill="none" stroke="#9e9e9e" stroke-width="4" stroke-linecap="round" stroke-linejoin="round"/>
<path d="M1011.3,506.8 L1010.4,510.4" fill="none" stroke="#585858" stroke-width="2.5" stroke-linecap="round" stroke-linejoin="round"/>
<path d="M422.1,703.9 L428.2,708.8" fill="none" stroke="#999999" stroke-width="6" stroke-linecap="round" stroke-linejoin="round"/>
<path d="M437.7,689.5 L443.1,694.0" fill="none" stroke="#9a9a9a" stroke-width="5" stroke-linecap="round" stroke-linejoin="round"/>
<path d="M465.3,689.5 L473.2,693.1" fill="none" stroke="#9d9d9d" stroke-width="6" stroke-linecap="round" stroke-linejoin="round"/>
<path d="M478.2,692.6 L482.7,694.9" fill="none" stroke="#9a9a9a" stroke-width="5" stroke-linecap="round" stroke-linejoin="round"/>
<path d="M445.5,722.4 L451.6,727.9" fill="none" stroke="#a0a0a0" stroke-width="7" stroke-linecap="round" stroke-linejoin="round"/>
<path d="M462.0,725.0 L471.4,728.2" fill="none" stroke="#9a9a9a" stroke-width="5" stroke-linecap="round" stroke-linejoin="round"/>
<path d="M438.6,716.5 L440.1,718.3" fill="none" stroke="#1e1e1e" stroke-width="3.0" stroke-linecap="round" stroke-linejoin="round"/>
<path d="M432.3,698.0 L435.0,701.6" fill="none" stroke="#585858" stroke-width="2.5" stroke-linecap="round" stroke-linejoin="round"/>
<path d="M489.0,757.0 L498.0,761.0 L507.9,765.7" fill="none" stroke="#9d9d9d" stroke-width="6" stroke-linecap="round" stroke-linejoin="round"/>
<path d="M525.0,757.0 L529.5,757.9" fill="none" stroke="#9e9e9e" stroke-width="4" stroke-linecap="round" stroke-linejoin="round"/>
<path d="M507.0,788.0 L518.2,786.7" fill="none" stroke="#999999" stroke-width="6" stroke-linecap="round" stroke-linejoin="round"/>
<path d="M530.1,789.1 L533.1,793.9" fill="none" stroke="#a2a2a2" stroke-width="6" stroke-linecap="round" stroke-linejoin="round"/>
<path d="M541.2,788.5 L550.3,791.6 L559.6,790.3" fill="none" stroke="#a0a0a0" stroke-width="7" stroke-linecap="round" stroke-linejoin="round"/>
<path d="M568.3,794.8 L577.3,798.8 L585.0,800.2" fill="none" stroke="#9c9c9c" stroke-width="7" stroke-linecap="round" stroke-linejoin="round"/>
<path d="M556.6,808.9 L561.4,815.0" fill="none" stroke="#9a9a9a" stroke-width="5" stroke-linecap="round" stroke-linejoin="round"/>
<path d="M567.9,817.9 L571.0,824.0" fill="none" stroke="#9a9a9a" stroke-width="5" stroke-linecap="round" stroke-linejoin="round"/>
<path d="M579.1,814.6 L580.9,819.1" fill="none" stroke="#9e9e9e" stroke-width="4" stroke-linecap="round" stroke-linejoin="round"/>
<path d="M525.9,689.5 L531.3,692.6" fill="none" stroke="#9e9e9e" stroke-width="4" stroke-linecap="round" stroke-linejoin="round"/>
<path d="M578.2,720.1 L580.9,721.0" fill="none" stroke="#9b9b9b" stroke-width="4" stroke-linecap="round" stroke-linejoin="round"/>
<path d="M538.5,748.9 L541.2,751.6" fill="none" stroke="#9e9e9e" stroke-width="4" stroke-linecap="round" stroke-linejoin="round"/>
<path d="M563.8,780.8 L568.3,780.1" fill="none" stroke="#9e9e9e" stroke-width="4" stroke-linecap="round" stroke-linejoin="round"/>
<path d="M526.8,769.3 L529.5,775.4" fill="none" stroke="#9b9b9b" stroke-width="4" stroke-linecap="round" stroke-linejoin="round"/>
<path d="M725.4,723.7 L734.4,727.3" fill="none" stroke="#8d8d8d" stroke-width="14" stroke-linecap="round" stroke-linejoin="round"/>
<path d="M594.9,697.2 L606.6,699.8 L619.2,698.0" fill="none" stroke="#a4a4a4" stroke-width="6" stroke-linecap="round" stroke-linejoin="round"/>
<path d="M641.7,689.5 L650.7,687.2" fill="none" stroke="#a6a6a6" stroke-width="5" stroke-linecap="round" stroke-linejoin="round"/>
<path d="M661.5,695.8 L675.0,698.0 L683.1,703.4" fill="none" stroke="#a2a2a2" stroke-width="6" stroke-linecap="round" stroke-linejoin="round"/>
<path d="M670.5,712.4 L673.2,713.4" fill="none" stroke="#a9a9a9" stroke-width="5" stroke-linecap="round" stroke-linejoin="round"/>
<path d="M647.1,717.8 L657.0,716.5" fill="none" stroke="#9b9b9b" stroke-width="4" stroke-linecap="round" stroke-linejoin="round"/>
<path d="M673.2,726.4 L680.4,728.6 L689.8,721.0" fill="none" stroke="#a2a2a2" stroke-width="6" stroke-linecap="round" stroke-linejoin="round"/>
<path d="M686.7,735.1 L693.9,739.4" fill="none" stroke="#a4a4a4" stroke-width="5" stroke-linecap="round" stroke-linejoin="round"/>
<path d="M702.9,691.3 L710.1,687.7" fill="none" stroke="#b1b1b1" stroke-width="6" stroke-linecap="round" stroke-linejoin="round"/>
<path d="M703.8,699.4 L705.6,701.2" fill="none" stroke="#1e1e1e" stroke-width="3.0" stroke-linecap="round" stroke-linejoin="round"/>
<path d="M594.0,703.9 L601.2,704.8" fill="none" stroke="#4e4e4e" stroke-width="2.5" stroke-linecap="round" stroke-linejoin="round"/>
<path d="M758.7,693.1 L767.7,689.0" fill="none" stroke="#c0c0c0" stroke-width="7" stroke-linecap="round" stroke-linejoin="round"/>
<path d="M774.0,697.2 L785.2,702.6" fill="none" stroke="#a4a4a4" stroke-width="5" stroke-linecap="round" stroke-linejoin="round"/>
<path d="M751.5,721.9 L747.0,730.4" fill="none" stroke="#9f9f9f" stroke-width="5" stroke-linecap="round" stroke-linejoin="round"/>
<path d="M728.1,757.4 L736.2,755.6 L740.2,750.2" fill="none" stroke="#c2c2c2" stroke-width="6" stroke-linecap="round" stroke-linejoin="round"/>
<path d="M680.1,766.4 L689.8,767.5" fill="none" stroke="#a4a4a4" stroke-width="5" stroke-linecap="round" stroke-linejoin="round"/>
<path d="M672.3,757.9 L675.0,756.1" fill="none" stroke="#a3a3a3" stroke-width="4" stroke-linecap="round" stroke-linejoin="round"/>
<path d="M607.5,783.1 L611.1,783.7" fill="none" stroke="#9b9b9b" stroke-width="4" stroke-linecap="round" stroke-linejoin="round"/>
<path d="M605.7,803.5 L617.8,807.8" fill="none" stroke="#9d9d9d" stroke-width="6" stroke-linecap="round" stroke-linejoin="round"/>
<path d="M589.5,814.3 L596.2,818.6" fill="none" stroke="#9d9d9d" stroke-width="6" stroke-linecap="round" stroke-linejoin="round"/>
<path d="M623.7,820.0 L639.9,822.2" fill="none" stroke="#9d9d9d" stroke-width="6" stroke-linecap="round" stroke-linejoin="round"/>
<path d="M607.5,835.3 L616.0,832.6" fill="none" stroke="#9d9d9d" stroke-width="6" stroke-linecap="round" stroke-linejoin="round"/>
<path d="M630.9,839.5 L637.6,843.8" fill="none" stroke="#9a9a9a" stroke-width="5" stroke-linecap="round" stroke-linejoin="round"/>
<path d="M647.1,834.4 L657.9,835.9" fill="none" stroke="#9d9d9d" stroke-width="6" stroke-linecap="round" stroke-linejoin="round"/>
<path d="M669.6,817.9 L674.1,819.1" fill="none" stroke="#9b9b9b" stroke-width="4" stroke-linecap="round" stroke-linejoin="round"/>
<path d="M705.3,838.4 L716.4,840.2 L722.7,838.9" fill="none" stroke="#a0a0a0" stroke-width="7" stroke-linecap="round" stroke-linejoin="round"/>
<path d="M742.5,822.7 L749.7,825.8" fill="none" stroke="#a4a4a4" stroke-width="5" stroke-linecap="round" stroke-linejoin="round"/>
<path d="M757.5,833.0 L772.2,833.7 L782.1,834.8" fill="none" stroke="#9d9d9d" stroke-width="6" stroke-linecap="round" stroke-linejoin="round"/>
<path d="M789.4,813.7 L799.6,811.0" fill="none" stroke="#9f9f9f" stroke-width="5" stroke-linecap="round" stroke-linejoin="round"/>
<path d="M807.9,777.2 L818.2,778.6" fill="none" stroke="#a4a4a4" stroke-width="5" stroke-linecap="round" stroke-linejoin="round"/>
<path d="M813.3,759.2 L819.1,750.2" fill="none" stroke="#c0c0c0" stroke-width="5" stroke-linecap="round" stroke-linejoin="round"/>
<path d="M803.8,729.1 L812.2,726.4" fill="none" stroke="#a9a9a9" stroke-width="5" stroke-linecap="round" stroke-linejoin="round"/>
<path d="M817.3,732.2 L825.0,733.6" fill="none" stroke="#a4a4a4" stroke-width="5" stroke-linecap="round" stroke-linejoin="round"/>
<path d="M789.9,743.5 L796.0,744.4" fill="none" stroke="#9f9f9f" stroke-width="5" stroke-linecap="round" stroke-linejoin="round"/>
<path d="M787.6,757.9 L790.3,756.1" fill="none" stroke="#a3a3a3" stroke-width="4" stroke-linecap="round" stroke-linejoin="round"/>
<path d="M809.2,800.2 L818.2,802.9" fill="none" stroke="#a4a4a4" stroke-width="5" stroke-linecap="round" stroke-linejoin="round"/>
<path d="M819.1,789.4 L821.2,787.6" fill="none" stroke="#2e2e2e" stroke-width="2.5" stroke-linecap="round" stroke-linejoin="round"/>
<path d="M776.7,822.7 L778.5,825.1" fill="none" stroke="#454545" stroke-width="2.5" stroke-linecap="round" stroke-linejoin="round"/>
<path d="M814.6,707.5 L817.3,706.2" fill="none" stroke="#a3a3a3" stroke-width="4" stroke-linecap="round" stroke-linejoin="round"/>
<path d="M866.4,708.4 L884.4,721.0 L900.6,717.4" fill="none" stroke="#8a8a8a" stroke-width="14" stroke-linecap="round" stroke-linejoin="round"/>
<path d="M827.7,707.5 L836.7,706.2" fill="none" stroke="#bcbcbc" stroke-width="6" stroke-linecap="round" stroke-linejoin="round"/>
<path d="M843.0,704.4 L846.6,709.3" fill="none" stroke="#a9a9a9" stroke-width="5" stroke-linecap="round" stroke-linejoin="round"/>
<path d="M829.5,723.7 L838.0,721.9" fill="none" stroke="#ababab" stroke-width="6" stroke-linecap="round" stroke-linejoin="round"/>
<path d="M825.0,729.1 L828.6,734.5" fill="none" stroke="#b4b4b4" stroke-width="5" stroke-linecap="round" stroke-linejoin="round"/>
<path d="M831.3,747.1 L840.3,750.2" fill="none" stroke="#bcbcbc" stroke-width="6" stroke-linecap="round" stroke-linejoin="round"/>
<path d="M834.9,756.7 L841.6,764.6" fill="none" stroke="#a9a9a9" stroke-width="5" stroke-linecap="round" stroke-linejoin="round"/>
<path d="M825.0,775.9 L833.1,778.6" fill="none" stroke="#a9a9a9" stroke-width="5" stroke-linecap="round" stroke-linejoin="round"/>
<path d="M832.2,789.4 L837.6,783.7 L844.8,783.1 L852.0,786.7" fill="none" stroke="#ababab" stroke-width="6" stroke-linecap="round" stroke-linejoin="round"/>
<path d="M825.0,800.2 L836.2,802.4" fill="none" stroke="#ababab" stroke-width="6" stroke-linecap="round" stroke-linejoin="round"/>
<path d="M842.1,805.3 L852.0,803.5" fill="none" stroke="#383838" stroke-width="3.0" stroke-linecap="round" stroke-linejoin="round"/>
<path d="M845.7,811.4 L852.9,813.2" fill="none" stroke="#a8a8a8" stroke-width="4" stroke-linecap="round" stroke-linejoin="round"/>
<path d="M903.3,727.3 L909.6,730.0" fill="none" stroke="#a6a6a6" stroke-width="6" stroke-linecap="round" stroke-linejoin="round"/>
<path d="M898.5,700.3 L900.6,694.9" fill="none" stroke="#9f9f9f" stroke-width="5" stroke-linecap="round" stroke-linejoin="round"/>
<path d="M847.5,696.2 L856.5,698.0" fill="none" stroke="#9f9f9f" stroke-width="5" stroke-linecap="round" stroke-linejoin="round"/>
<path d="M884.4,713.8 L888.0,710.2" fill="none" stroke="#9b9b9b" stroke-width="4" stroke-linecap="round" stroke-linejoin="round"/>
<path d="M954.3,695.8 L958.6,703.4" fill="none" stroke="#989898" stroke-width="5" stroke-linecap="round" stroke-linejoin="round"/>
<path d="M921.3,723.7 L925.8,721.0" fill="none" stroke="#9e9e9e" stroke-width="4" stroke-linecap="round" stroke-linejoin="round"/>
<path d="M830.4,765.1 L838.5,762.4" fill="none" stroke="#585858" stroke-width="2.5" stroke-linecap="round" stroke-linejoin="round"/>
<path d="M471.2,378.2 L477.5,386.6 L483.8,395.0" fill="none" stroke="#8f8f8f" stroke-width="12" stroke-linecap="round" stroke-linejoin="round"/>
<path d="M457.6,317.1 L463.9,313.9 L470.7,312.1" fill="none" stroke="#c0c0c0" stroke-width="5" stroke-linecap="round" stroke-linejoin="round"/>
<path d="M475.2,312.6 L482.8,311.7 L490.1,312.3 L493.8,312.9" fill="none" stroke="#cbcbcb" stroke-width="5" stroke-linecap="round" stroke-linejoin="round"/>
<path d="M503.2,293.7 L501.1,298.9 L500.1,305.2 L500.1,311.0 L502.2,316.5 L502.7,321.5" fill="none" stroke="#a6a6a6" stroke-width="6" stroke-linecap="round" stroke-linejoin="round"/>
<path d="M508.0,293.2 L510.6,290.0" fill="none" stroke="#a9a9a9" stroke-width="5" stroke-linecap="round" stroke-linejoin="round"/>
<path d="M515.8,306.8 L517.4,304.2 L522.7,302.4 L530.0,301.3" fill="none" stroke="#ababab" stroke-width="6" stroke-linecap="round" stroke-linejoin="round"/>
<path d="M516.2,307.3 L516.9,313.3 L517.6,318.6" fill="none" stroke="#a9a9a9" stroke-width="5" stroke-linecap="round" stroke-linejoin="round"/>
<path d="M553.1,295.3 L555.2,293.2" fill="none" stroke="#1e1e1e" stroke-width="3.0" stroke-linecap="round" stroke-linejoin="round"/>
<path d="M560.0,307.3 L565.0,303.7" fill="none" stroke="#c7c7c7" stroke-width="5" stroke-linecap="round" stroke-linejoin="round"/>
<path d="M514.3,366.7 L519.5,363.7 L524.8,357.4 L529.0,350.1 L533.2,342.7 L537.2,335.4" fill="none" stroke="#dcdcdc" stroke-width="6" stroke-linecap="round" stroke-linejoin="round"/>
<path d="M544.7,335.2 L546.8,328.9 L551.0,324.1 L557.3,319.9 L565.0,314.7" fill="none" stroke="#cdcdcd" stroke-width="6" stroke-linecap="round" stroke-linejoin="round"/>
<path d="M518.5,338.8 L525.3,334.3 L532.1,331.0 L538.4,331.8" fill="none" stroke="#aeaeae" stroke-width="5" stroke-linecap="round" stroke-linejoin="round"/>
<path d="M554.2,325.2 L560.5,326.8" fill="none" stroke="#a9a9a9" stroke-width="5" stroke-linecap="round" stroke-linejoin="round"/>
<path d="M527.9,340.4 L532.1,338.5" fill="none" stroke="#454545" stroke-width="3.0" stroke-linecap="round" stroke-linejoin="round"/>
<path d="M488.5,328.3 L485.7,334.6 L483.6,338.5" fill="none" stroke="#0d0d0d" stroke-width="3.0" stroke-linecap="round" stroke-linejoin="round"/>
<path d="M498.5,337.8 L505.3,334.6" fill="none" stroke="#141414" stroke-width="4.0" stroke-linecap="round" stroke-linejoin="round"/>
<path d="M472.5,347.2 L474.2,355.1 L476.5,362.7 L477.7,365.8" fill="none" stroke="#141414" stroke-width="4.0" stroke-linecap="round" stroke-linejoin="round"/>
<path d="M480.7,348.8 L483.6,353.0 L485.1,358.5" fill="none" stroke="#0d0d0d" stroke-width="3.0" stroke-linecap="round" stroke-linejoin="round"/>
<path d="M507.4,347.8 L510.1,346.5" fill="none" stroke="#1e1e1e" stroke-width="3.0" stroke-linecap="round" stroke-linejoin="round"/>
<path d="M477.0,304.7 L482.2,300.5" fill="none" stroke="#212121" stroke-width="4.0" stroke-linecap="round" stroke-linejoin="round"/>
<path d="M469.1,302.1 L470.0,299.2" fill="none" stroke="#1e1e1e" stroke-width="3.0" stroke-linecap="round" stroke-linejoin="round"/>
<path d="M454.6,324.7 L456.0,327.3" fill="none" stroke="#2e2e2e" stroke-width="3.0" stroke-linecap="round" stroke-linejoin="round"/>
<path d="M447.6,301.6 L448.3,304.7" fill="none" stroke="#4e4e4e" stroke-width="2.5" stroke-linecap="round" stroke-linejoin="round"/>
<path d="M485.4,320.5 L481.7,325.7 L479.6,332.0 L477.0,337.8" fill="none" stroke="#aeaeae" stroke-width="5" stroke-linecap="round" stroke-linejoin="round"/>
<path d="M493.3,332.5 L498.5,330.1 L503.2,328.0" fill="none" stroke="#c0c0c0" stroke-width="5" stroke-linecap="round" stroke-linejoin="round"/>
<path d="M494.8,341.3 L492.7,346.7 L490.3,353.0 L489.1,356.4" fill="none" stroke="#cbcbcb" stroke-width="5" stroke-linecap="round" stroke-linejoin="round"/>
<path d="M502.7,342.3 L505.3,341.7" fill="none" stroke="#cfcfcf" stroke-width="5" stroke-linecap="round" stroke-linejoin="round"/>
<path d="M510.6,340.4 L511.6,342.5" fill="none" stroke="#cfcfcf" stroke-width="5" stroke-linecap="round" stroke-linejoin="round"/>
<path d="M512.7,350.1 L515.3,350.9" fill="none" stroke="#cacaca" stroke-width="6" stroke-linecap="round" stroke-linejoin="round"/>
<path d="M453.9,350.4 L459.7,346.2 L466.0,344.8" fill="none" stroke="#a4a4a4" stroke-width="8" stroke-linecap="round" stroke-linejoin="round"/>
<path d="M467.5,345.1 L469.1,342.5" fill="none" stroke="#e2e2e2" stroke-width="7" stroke-linecap="round" stroke-linejoin="round"/>
<path d="M467.0,347.2 L469.1,353.2 L471.4,359.5 L474.2,365.8 L476.7,371.7" fill="none" stroke="#cfcfcf" stroke-width="5" stroke-linecap="round" stroke-linejoin="round"/>
<path d="M448.9,316.3 L450.2,322.8 L451.3,330.1 L450.7,333.3" fill="none" stroke="#bababa" stroke-width="5" stroke-linecap="round" stroke-linejoin="round"/>
<path d="M451.8,349.3 L450.2,357.2 L452.5,365.8 L456.5,373.2 L456.3,380.5" fill="none" stroke="#a6a6a6" stroke-width="6" stroke-linecap="round" stroke-linejoin="round"/>
<path d="M482.2,369.3 L488.0,369.8 L494.3,370.3 L498.5,373.0 L503.8,371.1 L507.1,366.9 L505.9,362.7" fill="none" stroke="#c2c2c2" stroke-width="6" stroke-linecap="round" stroke-linejoin="round"/>
<path d="M496.4,374.0 L499.6,375.6" fill="none" stroke="#b9b9b9" stroke-width="8" stroke-linecap="round" stroke-linejoin="round"/>
<path d="M494.3,359.8 L497.5,359.3" fill="none" stroke="#aeaeae" stroke-width="4" stroke-linecap="round" stroke-linejoin="round"/>
<path d="M538.4,345.7 L537.9,353.0 L539.0,357.4" fill="none" stroke="#a9a9a9" stroke-width="5" stroke-linecap="round" stroke-linejoin="round"/>
<path d="M559.4,338.8 L560.5,344.8" fill="none" stroke="#a9a9a9" stroke-width="5" stroke-linecap="round" stroke-linejoin="round"/>
<path d="M547.4,359.8 L544.2,365.1 L541.6,370.0" fill="none" stroke="#a9a9a9" stroke-width="5" stroke-linecap="round" stroke-linejoin="round"/>
<path d="M556.8,374.0 L557.5,379.3 L555.4,384.5 L553.3,389.8" fill="none" stroke="#cfcfcf" stroke-width="5" stroke-linecap="round" stroke-linejoin="round"/>
<path d="M560.5,377.7 L560.7,381.4" fill="none" stroke="#1d1d1d" stroke-width="2.5" stroke-linecap="round" stroke-linejoin="round"/>
<path d="M547.4,382.9 L550.2,387.1" fill="none" stroke="#aeaeae" stroke-width="4" stroke-linecap="round" stroke-linejoin="round"/>
<path d="M544.7,391.4 L551.0,394.0" fill="none" stroke="#c0c0c0" stroke-width="5" stroke-linecap="round" stroke-linejoin="round"/>
<path d="M546.3,369.3 L548.4,367.2" fill="none" stroke="#4e4e4e" stroke-width="2.5" stroke-linecap="round" stroke-linejoin="round"/>
<path d="M453.1,292.6 L454.4,302.6" fill="none" stroke="#a3a3a3" stroke-width="4" stroke-linecap="round" stroke-linejoin="round"/>
<path d="M464.9,298.4 L466.5,296.5" fill="none" stroke="#a8a8a8" stroke-width="4" stroke-linecap="round" stroke-linejoin="round"/>
<path d="M469.6,321.5 L473.5,319.4" fill="none" stroke="#c1c1c1" stroke-width="4" stroke-linecap="round" stroke-linejoin="round"/>
<path d="M740.0,203.9 L748.4,202.6 L756.8,204.7 L766.3,206.3 L775.2,205.7 L779.4,208.1" fill="none" stroke="#bababa" stroke-width="7" stroke-linecap="round" stroke-linejoin="round"/>
<path d="M740.0,208.7 L744.7,207.8" fill="none" stroke="#b4b4b4" stroke-width="5" stroke-linecap="round" stroke-linejoin="round"/>
<path d="M758.4,217.9 L764.2,214.7 L771.5,212.6 L777.8,214.1 L781.0,217.3 L778.3,220.7 L769.9,223.6" fill="none" stroke="#191919" stroke-width="3.5" stroke-linecap="round" stroke-linejoin="round"/>
<path d="M747.9,231.2 L755.8,228.4 L761.5,227.6 L767.5,232.0 L775.2,234.7" fill="none" stroke="#c6c6c6" stroke-width="8" stroke-linecap="round" stroke-linejoin="round"/>
<path d="M767.3,233.3 L773.6,234.4" fill="none" stroke="#e6e6e6" stroke-width="5" stroke-linecap="round" stroke-linejoin="round"/>
<path d="M740.0,237.5 L743.7,238.1" fill="none" stroke="#bcbcbc" stroke-width="6" stroke-linecap="round" stroke-linejoin="round"/>
<path d="M766.8,244.4 L771.5,242.8 L779.9,241.7" fill="none" stroke="#dddddd" stroke-width="7" stroke-linecap="round" stroke-linejoin="round"/>
<path d="M755.8,251.2 L761.0,249.1 L766.3,246.7" fill="none" stroke="#aaaaaa" stroke-width="7" stroke-linecap="round" stroke-linejoin="round"/>
<path d="M757.3,253.8 L764.7,254.0" fill="none" stroke="#a6a6a6" stroke-width="6" stroke-linecap="round" stroke-linejoin="round"/>
<path d="M777.8,248.0 L779.9,251.7 L784.6,254.9 L789.4,257.5" fill="none" stroke="#cfcfcf" stroke-width="8" stroke-linecap="round" stroke-linejoin="round"/>
<path d="M783.6,234.9 L789.4,238.3 L794.1,242.8" fill="none" stroke="#c7c7c7" stroke-width="5" stroke-linecap="round" stroke-linejoin="round"/>
<path d="M795.7,247.5 L798.8,242.3 L803.0,241.2" fill="none" stroke="#c7c7c7" stroke-width="7" stroke-linecap="round" stroke-linejoin="round"/>
<path d="M804.1,243.8 L809.3,243.8 L814.6,241.2 L820.9,238.3 L827.7,237.0" fill="none" stroke="#dbdbdb" stroke-width="8" stroke-linecap="round" stroke-linejoin="round"/>
<path d="M799.3,230.7 L800.9,233.3" fill="none" stroke="#1e1e1e" stroke-width="3.0" stroke-linecap="round" stroke-linejoin="round"/>
<path d="M796.2,222.1 L798.3,221.3" fill="none" stroke="#212121" stroke-width="4.0" stroke-linecap="round" stroke-linejoin="round"/>
<path d="M809.3,219.7 L811.4,217.1" fill="none" stroke="#1f1f1f" stroke-width="5.0" stroke-linecap="round" stroke-linejoin="round"/>
<path d="M815.1,214.4 L820.3,210.8 L829.3,210.2 L836.6,211.8 L844.5,214.1" fill="none" stroke="#141414" stroke-width="4.0" stroke-linecap="round" stroke-linejoin="round"/>
<path d="M808.3,226.0 L815.1,220.7 L823.0,217.9 L831.4,217.9 L840.8,220.0 L846.1,220.4" fill="none" stroke="#b6b6b6" stroke-width="4.5" stroke-linecap="round" stroke-linejoin="round"/>
<path d="M826.6,223.4 L831.4,226.5 L830.5,231.2" fill="none" stroke="#3e3e3e" stroke-width="3.0" stroke-linecap="round" stroke-linejoin="round"/>
<path d="M811.4,236.5 L819.8,232.8 L825.6,231.8" fill="none" stroke="#3e3e3e" stroke-width="2.5" stroke-linecap="round" stroke-linejoin="round"/>
<path d="M834.5,223.1 L838.7,227.8 L838.9,234.1" fill="none" stroke="#b4b4b4" stroke-width="4" stroke-linecap="round" stroke-linejoin="round"/>
<path d="M807.2,257.0 L813.5,256.4 L819.8,258.0 L824.0,259.3" fill="none" stroke="#d9d9d9" stroke-width="7" stroke-linecap="round" stroke-linejoin="round"/>
<path d="M812.5,266.9 L818.2,268.5 L824.0,268.7 L827.2,272.9 L829.5,277.4" fill="none" stroke="#c7c7c7" stroke-width="7" stroke-linecap="round" stroke-linejoin="round"/>
<path d="M790.9,262.2 L793.0,265.4" fill="none" stroke="#cbcbcb" stroke-width="7" stroke-linecap="round" stroke-linejoin="round"/>
<path d="M793.6,267.5 L798.8,272.2 L805.6,274.0" fill="none" stroke="#b3b3b3" stroke-width="10" stroke-linecap="round" stroke-linejoin="round"/>
<path d="M747.4,262.2 L753.7,265.6" fill="none" stroke="#a5a5a5" stroke-width="7" stroke-linecap="round" stroke-linejoin="round"/>
<path d="M763.6,262.2 L766.8,264.5" fill="none" stroke="#a4a4a4" stroke-width="5" stroke-linecap="round" stroke-linejoin="round"/>
<path d="M773.1,261.0 L775.7,262.2" fill="none" stroke="#a4a4a4" stroke-width="5" stroke-linecap="round" stroke-linejoin="round"/>
<path d="M777.8,272.7 L782.0,276.4" fill="none" stroke="#aaaaaa" stroke-width="7" stroke-linecap="round" stroke-linejoin="round"/>
<path d="M740.0,252.2 L744.7,253.8" fill="none" stroke="#a6a6a6" stroke-width="6" stroke-linecap="round" stroke-linejoin="round"/>
<path d="M814.0,277.4 L815.1,280.1" fill="none" stroke="#a9a9a9" stroke-width="5" stroke-linecap="round" stroke-linejoin="round"/>
<path d="M790.2,284.5 L793.0,286.6" fill="none" stroke="#b4b4b4" stroke-width="5" stroke-linecap="round" stroke-linejoin="round"/>
<path d="M813.5,286.4 L815.8,291.1" fill="none" stroke="#a9a9a9" stroke-width="5" stroke-linecap="round" stroke-linejoin="round"/>
<path d="M797.8,291.6 L803.5,293.9" fill="none" stroke="#a4a4a4" stroke-width="5" stroke-linecap="round" stroke-linejoin="round"/>
<path d="M753.7,278.0 L757.3,286.4 L760.0,294.2" fill="none" stroke="#a2a2a2" stroke-width="6" stroke-linecap="round" stroke-linejoin="round"/>
<path d="M782.0,283.7 L783.3,285.1" fill="none" stroke="#4e4e4e" stroke-width="2.5" stroke-linecap="round" stroke-linejoin="round"/>
<path d="M807.7,264.8 L809.1,265.9" fill="none" stroke="#3e3e3e" stroke-width="2.5" stroke-linecap="round" stroke-linejoin="round"/>
<path d="M784.6,240.2 L785.7,241.4" fill="none" stroke="#3e3e3e" stroke-width="2.5" stroke-linecap="round" stroke-linejoin="round"/>
<path d="M779.4,224.9 L781.5,227.0" fill="none" stroke="#b4b4b4" stroke-width="4" stroke-linecap="round" stroke-linejoin="round"/>
<path d="M794.1,227.0 L796.7,226.0" fill="none" stroke="#bababa" stroke-width="4" stroke-linecap="round" stroke-linejoin="round"/>
<path d="M826.6,249.1 L831.4,249.6" fill="none" stroke="#a9a9a9" stroke-width="5" stroke-linecap="round" stroke-linejoin="round"/>
<path d="M530.5,260.2 L536.8,260.0 L543.1,263.6 L549.9,266.7 L555.7,265.7 L558.9,262.5" fill="none" stroke="#ababab" stroke-width="6" stroke-linecap="round" stroke-linejoin="round"/>
<path d="M536.0,266.5 L534.7,273.0 L533.9,279.1" fill="none" stroke="#a4a4a4" stroke-width="5" stroke-linecap="round" stroke-linejoin="round"/>
<path d="M566.7,267.0 L570.2,259.7 L572.5,255.5" fill="none" stroke="#a9a9a9" stroke-width="5" stroke-linecap="round" stroke-linejoin="round"/>
<path d="M574.6,263.4 L579.3,266.0 L583.5,270.2" fill="none" stroke="#aeaeae" stroke-width="8" stroke-linecap="round" stroke-linejoin="round"/>
<path d="M586.7,254.4 L587.7,256.0" fill="none" stroke="#a4a4a4" stroke-width="5" stroke-linecap="round" stroke-linejoin="round"/>
<path d="M598.2,262.3 L599.3,263.9" fill="none" stroke="#a4a4a4" stroke-width="5" stroke-linecap="round" stroke-linejoin="round"/>
<path d="M557.8,284.4 L564.1,281.4 L570.4,278.3 L573.8,276.5" fill="none" stroke="#d3d3d3" stroke-width="6" stroke-linecap="round" stroke-linejoin="round"/>
<path d="M523.2,294.0 L530.5,290.9 L536.8,287.7 L541.5,286.5" fill="none" stroke="#dcdcdc" stroke-width="6" stroke-linecap="round" stroke-linejoin="round"/>
<path d="M547.8,289.8 L549.9,290.5" fill="none" stroke="#d0d0d0" stroke-width="7" stroke-linecap="round" stroke-linejoin="round"/>
<path d="M571.3,291.2 L572.5,288.6" fill="none" stroke="#212121" stroke-width="4.0" stroke-linecap="round" stroke-linejoin="round"/>
<path d="M581.4,285.4 L585.1,280.2" fill="none" stroke="#4f4f4f" stroke-width="3.0" stroke-linecap="round" stroke-linejoin="round"/>
<path d="M592.5,277.2 L595.6,274.1 L599.0,272.0" fill="none" stroke="#d9d9d9" stroke-width="7" stroke-linecap="round" stroke-linejoin="round"/>
<path d="M592.3,280.2 L593.5,285.4 L590.6,290.7 L584.3,294.0 L577.2,296.4 L573.4,298.0" fill="none" stroke="#c0c0c0" stroke-width="7" stroke-linecap="round" stroke-linejoin="round"/>
<path d="M602.4,271.8 L609.3,274.1 L614.5,270.9 L619.8,266.7 L626.1,265.5 L630.3,266.1" fill="none" stroke="#a5a5a5" stroke-width="7" stroke-linecap="round" stroke-linejoin="round"/>
<path d="M616.4,280.7 L617.9,279.6" fill="none" stroke="#2e2e2e" stroke-width="3.0" stroke-linecap="round" stroke-linejoin="round"/>
<path d="M635.0,279.6 L639.7,280.4" fill="none" stroke="#a4a4a4" stroke-width="5" stroke-linecap="round" stroke-linejoin="round"/>
<path d="M562.5,313.2 L568.3,310.8 L574.8,308.3" fill="none" stroke="#e0e0e0" stroke-width="6" stroke-linecap="round" stroke-linejoin="round"/>
<path d="M562.5,310.1 L569.4,306.6" fill="none" stroke="#1d1d1d" stroke-width="2.5" stroke-linecap="round" stroke-linejoin="round"/>
<path d="M520.0,304.3 L524.2,303.3 L530.0,301.7" fill="none" stroke="#a6a6a6" stroke-width="6" stroke-linecap="round" stroke-linejoin="round"/>
<path d="M582.0,319.2 L587.2,315.0 L589.3,308.7 L592.7,304.3" fill="none" stroke="#b4b4b4" stroke-width="5" stroke-linecap="round" stroke-linejoin="round"/>
<path d="M595.6,318.0 L599.8,312.9 L606.1,312.9 L609.3,317.1 L607.2,324.5" fill="none" stroke="#b4b4b4" stroke-width="5" stroke-linecap="round" stroke-linejoin="round"/>
<path d="M603.5,306.9 L604.9,308.0" fill="none" stroke="#2e2e2e" stroke-width="2.5" stroke-linecap="round" stroke-linejoin="round"/>
<path d="M594.6,298.0 L596.7,300.1" fill="none" stroke="#585858" stroke-width="3.0" stroke-linecap="round" stroke-linejoin="round"/>
<path d="M566.7,325.3 L568.1,323.2" fill="none" stroke="#2e2e2e" stroke-width="3.0" stroke-linecap="round" stroke-linejoin="round"/>
<path d="M618.2,321.6 L619.2,323.0" fill="none" stroke="#b4b4b4" stroke-width="5" stroke-linecap="round" stroke-linejoin="round"/>
<path d="M656.5,281.2 L660.0,281.7" fill="none" stroke="#a4a4a4" stroke-width="5" stroke-linecap="round" stroke-linejoin="round"/>
<path d="M635.5,297.0 L642.4,298.2" fill="none" stroke="#9e9e9e" stroke-width="4" stroke-linecap="round" stroke-linejoin="round"/>
<path d="M641.8,317.4 L645.0,318.5" fill="none" stroke="#a3a3a3" stroke-width="4" stroke-linecap="round" stroke-linejoin="round"/>
<path d="M606.1,300.6 L609.3,301.4" fill="none" stroke="#a8a8a8" stroke-width="4" stroke-linecap="round" stroke-linejoin="round"/>
<path d="M627.8,182.0 L632.0,178.4 L638.0,176.2 L647.6,177.0 L654.8,179.8 L664.4,182.6 L674.6,184.2" fill="none" stroke="#a2a2a2" stroke-width="6" stroke-linecap="round" stroke-linejoin="round"/>
<path d="M590.0,203.0 L597.2,198.8" fill="none" stroke="#9d9d9d" stroke-width="6" stroke-linecap="round" stroke-linejoin="round"/>
<path d="M617.0,216.2 L623.0,209.0 L628.6,204.8" fill="none" stroke="#a6a6a6" stroke-width="6" stroke-linecap="round" stroke-linejoin="round"/>
<path d="M632.0,214.7 L640.4,213.2 L647.6,207.4 L651.2,203.8" fill="none" stroke="#a6a6a6" stroke-width="6" stroke-linecap="round" stroke-linejoin="round"/>
<path d="M641.6,223.4 L650.6,219.2" fill="none" stroke="#b1b1b1" stroke-width="6" stroke-linecap="round" stroke-linejoin="round"/>
<path d="M601.8,217.8 L606.2,216.2" fill="none" stroke="#a4a4a4" stroke-width="5" stroke-linecap="round" stroke-linejoin="round"/>
<path d="M657.8,212.0 L666.8,215.6 L672.8,214.2 L676.4,206.2 L681.2,200.2 L689.0,199.0" fill="none" stroke="#a6a6a6" stroke-width="6" stroke-linecap="round" stroke-linejoin="round"/>
<path d="M619.4,194.0 L630.8,195.8" fill="none" stroke="#9a9a9a" stroke-width="5" stroke-linecap="round" stroke-linejoin="round"/>
<path d="M603.2,180.2 L616.4,178.4" fill="none" stroke="#959595" stroke-width="5" stroke-linecap="round" stroke-linejoin="round"/>
<path d="M617.0,245.0 L626.0,242.6 L633.2,246.8 L640.4,249.5 L646.4,244.7 L655.4,238.4" fill="none" stroke="#aeaeae" stroke-width="9" stroke-linecap="round" stroke-linejoin="round"/>
<path d="M637.4,252.8 L647.6,255.5 L657.2,254.3 L664.4,251.9 L674.0,253.1 L683.6,251.9 L692.6,250.7" fill="none" stroke="#b3b3b3" stroke-width="9" stroke-linecap="round" stroke-linejoin="round"/>
<path d="M663.8,265.4 L671.6,261.2 L679.4,256.7" fill="none" stroke="#a5a5a5" stroke-width="7" stroke-linecap="round" stroke-linejoin="round"/>
<path d="M662.0,225.2 L668.0,230.0 L674.0,234.2 L681.8,237.8" fill="none" stroke="#9d9d9d" stroke-width="6" stroke-linecap="round" stroke-linejoin="round"/>
<path d="M680.0,218.0 L684.8,224.0 L686.0,227.6" fill="none" stroke="#989898" stroke-width="5" stroke-linecap="round" stroke-linejoin="round"/>
<path d="M691.8,234.8 L696.8,239.9 L701.6,244.7 L707.0,247.1" fill="none" stroke="#ababab" stroke-width="6" stroke-linecap="round" stroke-linejoin="round"/>
<path d="M591.8,242.0 L599.6,243.5 L605.6,248.3 L609.2,253.1" fill="none" stroke="#9d9d9d" stroke-width="6" stroke-linecap="round" stroke-linejoin="round"/>
<path d="M610.4,288.2 L618.8,285.2 L626.6,282.8" fill="none" stroke="#c2c2c2" stroke-width="6" stroke-linecap="round" stroke-linejoin="round"/>
<path d="M616.2,279.5 L617.8,280.2" fill="none" stroke="#1e1e1e" stroke-width="3.0" stroke-linecap="round" stroke-linejoin="round"/>
<path d="M678.2,267.2 L683.0,266.0" fill="none" stroke="#3e3e3e" stroke-width="3.0" stroke-linecap="round" stroke-linejoin="round"/>
<path d="M678.2,274.7 L686.0,269.9 L692.6,267.5" fill="none" stroke="#a6a6a6" stroke-width="6" stroke-linecap="round" stroke-linejoin="round"/>
<path d="M656.6,283.1 L662.6,281.6" fill="none" stroke="#9f9f9f" stroke-width="5" stroke-linecap="round" stroke-linejoin="round"/>
<path d="M683.6,282.2 L689.6,283.4" fill="none" stroke="#9f9f9f" stroke-width="5" stroke-linecap="round" stroke-linejoin="round"/>
<path d="M702.8,218.3 L706.4,211.1 L711.2,208.6 L717.2,209.8" fill="none" stroke="#a5a5a5" stroke-width="7" stroke-linecap="round" stroke-linejoin="round"/>
<path d="M709.4,195.4 L717.2,197.8 L722.0,201.4 L728.0,199.0 L734.0,196.6 L744.8,197.4" fill="none" stroke="#a5a5a5" stroke-width="7" stroke-linecap="round" stroke-linejoin="round"/>
<path d="M715.4,184.2 L725.0,185.8" fill="none" stroke="#9a9a9a" stroke-width="5" stroke-linecap="round" stroke-linejoin="round"/>
<path d="M726.2,210.8 L731.6,216.8 L735.5,218.0" fill="none" stroke="#a6a6a6" stroke-width="6" stroke-linecap="round" stroke-linejoin="round"/>
<path d="M711.8,228.2 L718.4,225.5 L722.3,222.8" fill="none" stroke="#ababab" stroke-width="6" stroke-linecap="round" stroke-linejoin="round"/>
<path d="M729.8,228.2 L737.6,226.4 L744.2,227.9" fill="none" stroke="#aaaaaa" stroke-width="7" stroke-linecap="round" stroke-linejoin="round"/>
<path d="M731.6,232.4 L737.0,235.4 L741.8,238.4" fill="none" stroke="#afafaf" stroke-width="7" stroke-linecap="round" stroke-linejoin="round"/>
<path d="M711.2,251.6 L716.0,256.7 L722.0,251.9 L728.0,245.9 L733.1,244.7" fill="none" stroke="#aaaaaa" stroke-width="7" stroke-linecap="round" stroke-linejoin="round"/>
<path d="M733.4,261.2 L735.8,264.2" fill="none" stroke="#9a9a9a" stroke-width="5" stroke-linecap="round" stroke-linejoin="round"/>
<path d="M725.6,278.6 L729.2,279.8" fill="none" stroke="#9a9a9a" stroke-width="5" stroke-linecap="round" stroke-linejoin="round"/>
<path d="M712.4,272.0 L714.8,275.0" fill="none" stroke="#9a9a9a" stroke-width="5" stroke-linecap="round" stroke-linejoin="round"/>
<path d="M747.8,228.8 L750.0,232.4" fill="none" stroke="#c7c7c7" stroke-width="5" stroke-linecap="round" stroke-linejoin="round"/>
</g>
<mask id="m45" maskUnits="userSpaceOnUse" x="340" y="140" width="724" height="724"><g filter="url(#wb)"><path d="M701.5,502.5 L862.2,114.5 L934.8,153.3 L998.5,205.5 L1050.7,269.2 L1089.5,341.8Z M701.5,502.5 L540.8,890.5 L468.2,851.7 L404.5,799.5 L352.3,735.8 L313.5,663.2Z" fill="#fff"/></g></mask>
<mask id="m90" maskUnits="userSpaceOnUse" x="340" y="140" width="724" height="724"><g filter="url(#wb)"><path d="M701.5,502.5 L1089.5,341.8 L1113.4,420.6 L1121.5,502.5 L1113.4,584.4 L1089.5,663.2Z M701.5,502.5 L313.5,663.2 L289.6,584.4 L281.5,502.5 L289.6,420.6 L313.5,341.8Z" fill="#fff"/></g></mask>
<mask id="m135" maskUnits="userSpaceOnUse" x="340" y="140" width="724" height="724"><g filter="url(#wb)"><path d="M701.5,502.5 L1089.5,663.2 L1050.7,735.8 L998.5,799.5 L934.8,851.7 L862.2,890.5Z M701.5,502.5 L313.5,341.8 L352.3,269.2 L404.5,205.5 L468.2,153.3 L540.8,114.5Z" fill="#fff"/></g></mask>
</defs>
<g filter="url(#field)"><use href="#src"/></g>
<g mask="url(#m45)"><g transform="rotate(45 701.5 502.5)" filter="url(#field)"><use href="#src" transform="rotate(-45 701.5 502.5)"/></g></g>
<g mask="url(#m90)"><g transform="rotate(90 701.5 502.5)" filter="url(#field)"><use href="#src" transform="rotate(-90 701.5 502.5)"/></g></g>
<g mask="url(#m135)"><g transform="rotate(135 701.5 502.5)" filter="url(#field)"><use href="#src" transform="rotate(-135 701.5 502.5)"/></g></g>
<path d="M701.5,330.2 L745.5,338.0 L782.5,361.9 L814.6,389.1 L840.1,422.2 L846.4,463.4 L841.5,502.2 L836.7,538.4 L827.1,574.7 L807.6,608.3 L776.5,632.1 L740.3,647.1 L701.5,642.2 L662.7,647.1 L621.5,640.8 L588.4,615.3 L578.5,573.2 L568.2,537.9 L561.5,502.2 L561.4,464.7 L571.6,427.2 L584.8,385.5 L615.5,353.2 L657.0,336.1Z" fill="#efefee" filter="url(#qb)" opacity="0.55"/>
<path d="M589.0,422.0 L595.5,399.0 L618.6,372.5 L645.0,352.7 L671.4,339.5 L697.8,336.2 L724.2,346.1 L740.7,369.2 L748.0,400.0 L720.0,440.0 L700.0,470.0 L640.0,480.0 L600.0,455.0Z" fill="#efefee" filter="url(#qb)" opacity="0.9"/>
<path d="M604.0,515.0 L602.0,547.4 L614.0,575.0 L632.0,598.0 L655.0,616.0 L678.0,630.0 L711.0,636.0 L733.0,630.0 L746.0,615.0 L735.0,590.0 L700.0,555.0 L640.0,530.0Z" fill="#efefee" filter="url(#qb)" opacity="0.9"/>
<line x1="809.3" y1="203.9" x2="737.8" y2="401" stroke="#fff" stroke-width="0.8" opacity="0.85"/>
<path d="M674.4,545.2 L676.8,543.4 L681.6,542.8 L684.0,538.0 L685.8,534.4 L688.2,530.8 L687.0,526.0 L688.8,524.2 L692.4,525.4 L694.8,528.4 L698.4,531.4 L701.4,533.8 L706.8,536.2 L710.4,538.6 L714.0,542.2 L717.0,546.4 L719.4,551.2 L721.2,556.6 L720.0,559.6 L717.0,562.0 L715.8,563.5 L709.2,565.4 L702.0,566.0 L694.8,565.6 L687.6,564.7 L681.6,563.2 L677.4,562.0 L675.6,558.4 L677.4,557.2 L676.2,551.2Z" fill="#fff" stroke="#fff" stroke-width="1.5"/>
<path d="M607,520 L613,527 L624,536 L628,548 L634,555 L645,560 L660,565" fill="none" stroke="#fff" stroke-width="3.5" stroke-linecap="round" stroke-linejoin="round"/>
<path d="M653,457 L663,454" fill="none" stroke="#fff" stroke-width="3.5" stroke-linecap="round"/>
<path d="M687.2,400.0 L685.4,403.6 L681.2,405.4 L682.4,408.4 L678.8,413.2 L674.0,418.0 L670.4,424.0 L668.0,430.0 L667.4,436.0 L665.6,442.0 L665.0,448.0 L663.8,452.8 L660.8,457.6 L656.0,461.2 L650.0,463.6 L645.2,465.4 L641.6,468.4 L639.2,472.0 L637.4,475.0 L635.6,470.8 L633.2,467.2 L630.8,463.6 L627.2,460.0 L622.4,457.6 L617.6,455.2 L612.8,452.8 L608.0,451.6 L603.2,451.0 L599.6,452.2 L596.0,453.4 L592.4,452.8 L590.0,450.4 L588.2,447.4 L586.4,444.4 L584.0,440.8 L582.8,436.0 L583.4,431.2 L584.0,427.6 L582.2,425.2 L582.8,420.4 L581.0,419.8 L579.8,422.8 L578.6,427.6 L579.2,432.4 L578.0,437.2 L576.8,439.6 L578.0,442.0 L579.8,440.8 L581.0,443.2 L582.8,446.8 L584.6,450.4 L587.6,453.4 L585.8,455.2 L587.0,457.6 L589.4,458.8 L590.0,456.4 L593.0,455.8 L596.0,457.0 L598.4,458.8 L599.6,461.2 L601.4,462.4 L608.0,463.0 L614.0,465.4 L616.4,469.6 L616.4,476.8 L612.8,478.0 L609.2,481.0 L610.4,482.8 L612.8,484.0 L611.6,486.4 L611.0,491.2 L610.2,490.0 L609.6,497.2 L609.0,504.4 L607.2,510.4 L604.8,514.0 L605.4,518.8 L607.2,520.0 L609.6,515.8 L612.0,512.2 L615.0,512.8 L614.4,516.4 L616.2,519.4 L620.4,517.0 L622.2,516.4 L621.6,521.2 L623.4,524.2 L626.4,526.0 L627.0,530.8 L628.8,533.8 L629.4,537.4 L627.0,539.8 L624.6,541.0 L624.0,544.0 L625.2,547.0 L627.0,550.6 L630.0,549.4 L634.8,549.4 L639.0,548.2 L642.0,547.6 L642.6,552.4 L642.0,557.2 L644.4,560.2 L649.2,561.4 L654.0,562.6 L658.8,563.8 L661.2,565.0 L662.4,562.0 L666.0,559.0 L669.6,559.0 L672.0,562.0 L673.8,565.6 L676.2,565.6 L676.8,562.0 L675.6,558.4 L677.4,557.2 L676.2,551.2 L674.4,545.2 L676.8,543.4 L681.6,542.8 L684.0,538.0 L685.8,534.4 L688.2,530.8 L687.0,526.0 L688.8,524.2 L692.4,525.4 L694.8,528.4 L698.4,531.4 L701.4,533.8 L706.8,536.2 L710.4,538.6 L714.0,542.2 L717.0,546.4 L719.4,551.2 L721.2,556.6 L720.0,559.6 L717.0,562.0 L718.2,565.0 L721.2,568.6 L723.0,572.8 L723.6,577.6 L723.0,582.4 L721.2,587.2 L719.4,591.4 L718.2,595.6 L717.6,595.6 L721.2,598.6 L726.0,601.6 L732.0,604.0 L738.0,605.5 L742.8,606.2 L747.6,605.8 L752.4,606.4 L757.2,605.2 L762.0,604.0 L766.8,602.2 L771.6,602.8 L776.4,601.6 L782.4,599.2 L788.4,596.2 L793.2,593.2 L796.8,589.6 L798.6,586.0 L797.4,582.4 L800.4,580.6 L804.0,577.6 L805.2,572.8 L808.2,569.2 L810.0,564.4 L813.6,560.8 L818.4,557.2 L822.0,553.6 L822.6,548.8 L820.8,546.4 L821.4,542.8 L825.6,538.0 L828.0,533.2 L828.6,528.4 L827.4,523.6 L827.4,516.4 L828.0,509.2 L828.0,502.0 L827.4,500.0 L826.8,496.4 L825.0,491.6 L822.0,486.8 L818.4,483.2 L814.8,479.0 L811.2,477.2 L808.2,474.8 L806.4,471.2 L803.4,469.4 L801.6,467.6 L805.2,464.6 L810.0,462.8 L814.2,459.8 L813.0,458.0 L811.2,453.2 L810.0,448.4 L808.2,443.6 L808.2,438.8 L807.0,434.0 L808.8,430.4 L807.0,426.2 L802.8,422.6 L798.0,422.0 L793.8,425.0 L789.6,420.2 L784.8,416.6 L780.0,414.8 L774.0,415.4 L769.2,417.8 L767.4,413.6 L766.8,408.8 L765.0,406.4 L763.2,408.8 L760.8,409.4 L752.4,407.6 L744.0,405.8 L738.0,402.8 L729.6,399.2 L721.2,396.8 L714.0,396.2 L708.0,398.6 L703.2,402.2 L699.6,401.0 L697.8,396.8 L695.4,398.0 L694.8,402.2 L690.0,401.6Z" fill="#fff" stroke="#fff" stroke-width="3.6" stroke-linejoin="round"/>
<path d="M594.2,465.4 L600.8,464.2 L608.0,465.4 L611.6,467.2 L613.4,470.8 L612.2,473.8 L608.0,476.8 L604.4,478.6 L602.0,476.8 L603.8,473.8 L603.2,470.8 L602.0,468.4 L597.2,467.8 L594.8,466.6Z" fill="#fff" stroke="#fff" stroke-width="3.6" stroke-linejoin="round"/>
<path d="M431.0,276.8 L434.0,281.6 L435.8,287.6 L436.4,293.6 L438.2,299.6 L440.0,305.6 L442.4,311.6 L443.0,317.6 L441.2,322.4 L437.6,326.0 L434.0,329.0 L429.8,330.8 L426.8,331.4 L425.6,332.6 L428.0,333.8 L432.8,332.0 L437.6,332.6 L442.4,333.2 L446.0,335.6 L448.4,339.8 L450.8,344.0 L451.4,350.0 L449.6,354.8 L447.8,359.6 L444.8,364.4 L443.6,366.2 L446.0,367.4 L448.4,368.4 L452.0,373.2 L453.2,378.0 L450.8,381.6 L449.0,384.0 L452.0,385.8 L456.8,385.8 L458.6,382.8 L461.6,383.4 L461.6,387.0 L460.4,388.8 L464.0,391.8 L467.6,394.2 L470.0,397.2 L471.2,401.4 L473.0,405.0 L476.0,407.4 L479.6,406.8 L483.2,404.4 L486.2,406.2 L487.4,410.4 L490.4,414.0 L494.0,417.6 L495.8,421.2 L498.8,424.2 L503.6,426.0 L507.2,426.0 L510.8,426.6 L515.6,426.0 L520.4,424.2 L524.0,422.4 L526.4,421.2 L525.8,426.0 L526.4,430.8 L524.0,434.4 L520.4,438.0 L515.6,441.6 L510.8,444.6 L506.0,447.0 L503.6,448.2 L500.0,447.6 L497.6,445.8 L495.2,448.2 L492.8,446.4 L488.0,444.0 L484.4,445.8 L479.6,444.0 L476.0,441.6 L474.8,439.8 L470.0,438.6 L468.2,441.6 L466.4,439.8 L464.0,436.8 L460.4,434.4 L456.8,432.6 L452.0,430.8 L447.2,427.8 L442.4,425.4 L438.8,422.4 L436.4,423.6 L431.6,422.4 L426.8,420.6 L422.0,418.8 L416.0,417.6 L411.2,416.4 L407.6,412.8 L404.0,409.2 L399.2,405.6 L393.2,400.8 L387.2,397.2 L380.0,394.8 L368.5,391.0 L367.1,390.5 L368.8,385.3 L370.7,380.2 L372.6,375.1 L374.6,370.0 L376.7,364.9 L378.9,359.9 L381.2,354.9 L383.5,350.0 L385.9,345.1 L388.4,340.2 L390.9,335.4 L393.6,330.6 L396.3,325.8 L399.0,321.1 L401.9,316.4 L404.8,311.8 L407.8,307.2 L410.9,302.7 L414.0,298.2 L417.2,293.8 L420.5,289.4 L423.8,285.0 L427.2,280.8 L430.7,276.5Z" fill="#fff" stroke="#fff" stroke-width="3.6" stroke-linejoin="round"/>
<path d="M516.8,396.0 L519.2,390.0 L521.6,388.8 L522.8,392.4 L521.0,397.2 L518.0,400.2 L516.2,398.4Z" fill="#fff" stroke="#fff" stroke-width="3.6" stroke-linejoin="round"/>
<path d="M805.4,166.2 L806.0,174.0 L806.6,180.0 L804.2,186.0 L804.8,192.0 L806.0,196.8 L808.4,201.0 L812.0,202.2 L815.6,201.6 L820.4,202.8 L825.2,202.8 L830.0,204.6 L834.8,207.6 L840.8,209.4 L846.8,210.6 L851.6,211.0 L856.4,210.0 L862.4,208.2 L868.4,205.8 L874.4,204.0 L879.2,202.2 L882.2,200.4 L882.5,199.8 L879.5,198.0 L876.5,196.3 L873.4,194.5 L870.3,192.8 L867.2,191.2 L864.1,189.5 L861.0,187.9 L857.8,186.3 L854.7,184.8 L851.5,183.3 L848.3,181.8 L845.1,180.4 L841.9,178.9 L838.7,177.6 L835.4,176.2 L832.1,174.9 L828.9,173.6 L825.6,172.3 L822.3,171.1 L819.0,169.9 L815.6,168.8 L812.3,167.7 L809.0,166.6 L805.6,165.5Z" fill="#fff" stroke="#fff" stroke-width="3.6" stroke-linejoin="round"/>
<path d="M1020.5,651.0 L1013.0,651.0 L1005.5,648.8 L999.5,645.8 L996.5,641.3 L992.8,640.5 L987.5,643.5 L983.8,648.0 L982.3,654.0 L983.0,660.0 L980.8,667.5 L977.8,673.5 L974.0,679.5 L973.3,684.8 L974.8,690.0 L973.3,696.0 L971.8,702.0 L968.8,708.0 L966.5,714.0 L963.5,720.0 L959.0,725.3 L954.5,729.0 L948.5,732.0 L944.0,735.0 L940.3,735.0 L938.0,732.8 L932.0,732.0 L927.5,730.5 L924.5,729.8 L923.8,735.0 L924.5,741.0 L924.2,748.5 L922.3,745.5 L920.0,739.5 L918.5,735.0 L916.3,735.8 L917.0,741.0 L914.8,741.8 L911.8,738.0 L908.0,738.8 L903.5,738.0 L900.5,737.3 L897.5,734.3 L893.0,732.8 L888.5,733.5 L884.0,735.0 L879.5,736.5 L875.0,737.3 L873.5,741.0 L872.8,744.8 L869.8,745.5 L866.0,744.0 L862.3,744.8 L860.8,750.0 L858.5,754.5 L855.5,759.0 L852.5,763.5 L855.2,759.2 L852.8,761.6 L854.0,766.4 L855.8,771.2 L857.0,776.0 L858.2,782.0 L858.8,788.0 L858.2,792.8 L857.0,797.6 L857.6,803.6 L858.8,809.6 L860.0,816.2 L860.6,817.3 L869.2,812.8 L877.8,808.0 L886.2,803.0 L894.5,797.7 L902.6,792.2 L910.6,786.5 L918.4,780.6 L926.1,774.5 L933.6,768.1 L940.8,761.6 L948.0,754.8 L954.9,747.9 L961.6,740.7 L968.1,733.4 L974.4,725.9 L980.5,718.2 L986.4,710.4 L992.1,702.4 L997.5,694.2 L1002.8,685.9 L1007.7,677.5 L1012.5,668.9 L1017.0,660.2 L1021.3,651.3Z" fill="#fff" stroke="#fff" stroke-width="3.6" stroke-linejoin="round"/>
<path d="M845.0,721.5 L849.5,720.0 L854.0,722.3 L858.5,726.0 L862.3,729.8 L861.5,732.8 L856.3,733.5 L852.5,736.5 L849.5,739.5 L845.8,737.3 L844.3,732.0 L842.8,727.5Z" fill="#fff" stroke="#fff" stroke-width="3.6" stroke-linejoin="round"/>
<path d="M908.8,733.5 L911.8,729.8 L914.8,728.3 L915.5,730.5 L912.5,732.8 L910.3,734.3Z" fill="#fff" stroke="#fff" stroke-width="3.6" stroke-linejoin="round"/>
<path d="M743.0,745.7 L746.1,742.1 L751.4,740.5 L756.6,741.0 L759.2,742.6 L758.2,747.3 L756.1,751.5 L752.4,756.2 L748.2,761.0 L744.0,766.2 L741.9,770.4 L740.9,774.1 L738.8,776.7 L738.2,779.9 L735.6,778.8 L733.5,776.7 L731.4,778.3 L728.8,776.7 L729.3,772.5 L731.4,768.3 L733.5,764.1 L734.6,761.5 L736.7,758.9 L738.8,754.7 L740.3,750.5Z" fill="#fff" stroke="#fff" stroke-width="3.6" stroke-linejoin="round"/>
<path d="M722.5,776.7 L725.1,776.2 L726.7,778.8 L726.2,782.0 L727.2,785.1 L730.4,787.2 L732.5,789.3 L730.4,791.9 L728.8,795.1 L728.3,799.3 L728.8,804.0 L730.4,805.6 L733.5,810.3 L736.7,814.5 L739.8,819.2 L737.7,819.8 L733.5,815.6 L730.4,811.4 L728.3,808.2 L727.2,805.1 L725.6,807.2 L724.1,805.1 L722.5,801.9 L720.4,800.3 L716.7,799.3 L713.6,801.4 L710.4,802.4 L709.4,799.8 L710.9,796.1 L713.6,793.0 L716.2,791.4 L717.2,787.2 L718.8,783.0 L720.9,779.3Z" fill="#fff" stroke="#fff" stroke-width="3.6" stroke-linejoin="round"/>
<path d="M687.2,400.0 L685.4,403.6 L681.2,405.4 L682.4,408.4 L678.8,413.2 L674.0,418.0 L670.4,424.0 L668.0,430.0 L667.4,436.0 L665.6,442.0 L665.0,448.0 L663.8,452.8 L660.8,457.6 L656.0,461.2 L650.0,463.6 L645.2,465.4 L641.6,468.4 L639.2,472.0 L637.4,475.0 L635.6,470.8 L633.2,467.2 L630.8,463.6 L627.2,460.0 L622.4,457.6 L617.6,455.2 L612.8,452.8 L608.0,451.6 L603.2,451.0 L599.6,452.2 L596.0,453.4 L592.4,452.8 L590.0,450.4 L588.2,447.4 L586.4,444.4 L584.0,440.8 L582.8,436.0 L583.4,431.2 L584.0,427.6 L582.2,425.2 L582.8,420.4 L581.0,419.8 L579.8,422.8 L578.6,427.6 L579.2,432.4 L578.0,437.2 L576.8,439.6 L578.0,442.0 L579.8,440.8 L581.0,443.2 L582.8,446.8 L584.6,450.4 L587.6,453.4 L585.8,455.2 L587.0,457.6 L589.4,458.8 L590.0,456.4 L593.0,455.8 L596.0,457.0 L598.4,458.8 L599.6,461.2 L601.4,462.4 L608.0,463.0 L614.0,465.4 L616.4,469.6 L616.4,476.8 L612.8,478.0 L609.2,481.0 L610.4,482.8 L612.8,484.0 L611.6,486.4 L611.0,491.2 L610.2,490.0 L609.6,497.2 L609.0,504.4 L607.2,510.4 L604.8,514.0 L605.4,518.8 L607.2,520.0 L609.6,515.8 L612.0,512.2 L615.0,512.8 L614.4,516.4 L616.2,519.4 L620.4,517.0 L622.2,516.4 L621.6,521.2 L623.4,524.2 L626.4,526.0 L627.0,530.8 L628.8,533.8 L629.4,537.4 L627.0,539.8 L624.6,541.0 L624.0,544.0 L625.2,547.0 L627.0,550.6 L630.0,549.4 L634.8,549.4 L639.0,548.2 L642.0,547.6 L642.6,552.4 L642.0,557.2 L644.4,560.2 L649.2,561.4 L654.0,562.6 L658.8,563.8 L661.2,565.0 L662.4,562.0 L666.0,559.0 L669.6,559.0 L672.0,562.0 L673.8,565.6 L676.2,565.6 L676.8,562.0 L675.6,558.4 L677.4,557.2 L676.2,551.2 L674.4,545.2 L676.8,543.4 L681.6,542.8 L684.0,538.0 L685.8,534.4 L688.2,530.8 L687.0,526.0 L688.8,524.2 L692.4,525.4 L694.8,528.4 L698.4,531.4 L701.4,533.8 L706.8,536.2 L710.4,538.6 L714.0,542.2 L717.0,546.4 L719.4,551.2 L721.2,556.6 L720.0,559.6 L717.0,562.0 L718.2,565.0 L721.2,568.6 L723.0,572.8 L723.6,577.6 L723.0,582.4 L721.2,587.2 L719.4,591.4 L718.2,595.6 L717.6,595.6 L721.2,598.6 L726.0,601.6 L732.0,604.0 L738.0,605.5 L742.8,606.2 L747.6,605.8 L752.4,606.4 L757.2,605.2 L762.0,604.0 L766.8,602.2 L771.6,602.8 L776.4,601.6 L782.4,599.2 L788.4,596.2 L793.2,593.2 L796.8,589.6 L798.6,586.0 L797.4,582.4 L800.4,580.6 L804.0,577.6 L805.2,572.8 L808.2,569.2 L810.0,564.4 L813.6,560.8 L818.4,557.2 L822.0,553.6 L822.6,548.8 L820.8,546.4 L821.4,542.8 L825.6,538.0 L828.0,533.2 L828.6,528.4 L827.4,523.6 L827.4,516.4 L828.0,509.2 L828.0,502.0 L827.4,500.0 L826.8,496.4 L825.0,491.6 L822.0,486.8 L818.4,483.2 L814.8,479.0 L811.2,477.2 L808.2,474.8 L806.4,471.2 L803.4,469.4 L801.6,467.6 L805.2,464.6 L810.0,462.8 L814.2,459.8 L813.0,458.0 L811.2,453.2 L810.0,448.4 L808.2,443.6 L808.2,438.8 L807.0,434.0 L808.8,430.4 L807.0,426.2 L802.8,422.6 L798.0,422.0 L793.8,425.0 L789.6,420.2 L784.8,416.6 L780.0,414.8 L774.0,415.4 L769.2,417.8 L767.4,413.6 L766.8,408.8 L765.0,406.4 L763.2,408.8 L760.8,409.4 L752.4,407.6 L744.0,405.8 L738.0,402.8 L729.6,399.2 L721.2,396.8 L714.0,396.2 L708.0,398.6 L703.2,402.2 L699.6,401.0 L697.8,396.8 L695.4,398.0 L694.8,402.2 L690.0,401.6Z" fill="#808080" stroke="#000" stroke-width="1.05" stroke-linejoin="round"/>
<path d="M594.2,465.4 L600.8,464.2 L608.0,465.4 L611.6,467.2 L613.4,470.8 L612.2,473.8 L608.0,476.8 L604.4,478.6 L602.0,476.8 L603.8,473.8 L603.2,470.8 L602.0,468.4 L597.2,467.8 L594.8,466.6Z" fill="#808080" stroke="#000" stroke-width="1.05" stroke-linejoin="round"/>
<path d="M431.0,276.8 L434.0,281.6 L435.8,287.6 L436.4,293.6 L438.2,299.6 L440.0,305.6 L442.4,311.6 L443.0,317.6 L441.2,322.4 L437.6,326.0 L434.0,329.0 L429.8,330.8 L426.8,331.4 L425.6,332.6 L428.0,333.8 L432.8,332.0 L437.6,332.6 L442.4,333.2 L446.0,335.6 L448.4,339.8 L450.8,344.0 L451.4,350.0 L449.6,354.8 L447.8,359.6 L444.8,364.4 L443.6,366.2 L446.0,367.4 L448.4,368.4 L452.0,373.2 L453.2,378.0 L450.8,381.6 L449.0,384.0 L452.0,385.8 L456.8,385.8 L458.6,382.8 L461.6,383.4 L461.6,387.0 L460.4,388.8 L464.0,391.8 L467.6,394.2 L470.0,397.2 L471.2,401.4 L473.0,405.0 L476.0,407.4 L479.6,406.8 L483.2,404.4 L486.2,406.2 L487.4,410.4 L490.4,414.0 L494.0,417.6 L495.8,421.2 L498.8,424.2 L503.6,426.0 L507.2,426.0 L510.8,426.6 L515.6,426.0 L520.4,424.2 L524.0,422.4 L526.4,421.2 L525.8,426.0 L526.4,430.8 L524.0,434.4 L520.4,438.0 L515.6,441.6 L510.8,444.6 L506.0,447.0 L503.6,448.2 L500.0,447.6 L497.6,445.8 L495.2,448.2 L492.8,446.4 L488.0,444.0 L484.4,445.8 L479.6,444.0 L476.0,441.6 L474.8,439.8 L470.0,438.6 L468.2,441.6 L466.4,439.8 L464.0,436.8 L460.4,434.4 L456.8,432.6 L452.0,430.8 L447.2,427.8 L442.4,425.4 L438.8,422.4 L436.4,423.6 L431.6,422.4 L426.8,420.6 L422.0,418.8 L416.0,417.6 L411.2,416.4 L407.6,412.8 L404.0,409.2 L399.2,405.6 L393.2,400.8 L387.2,397.2 L380.0,394.8 L368.5,391.0 L367.1,390.5 L368.8,385.3 L370.7,380.2 L372.6,375.1 L374.6,370.0 L376.7,364.9 L378.9,359.9 L381.2,354.9 L383.5,350.0 L385.9,345.1 L388.4,340.2 L390.9,335.4 L393.6,330.6 L396.3,325.8 L399.0,321.1 L401.9,316.4 L404.8,311.8 L407.8,307.2 L410.9,302.7 L414.0,298.2 L417.2,293.8 L420.5,289.4 L423.8,285.0 L427.2,280.8 L430.7,276.5Z" fill="#808080" stroke="#000" stroke-width="1.05" stroke-linejoin="round"/>
<path d="M516.8,396.0 L519.2,390.0 L521.6,388.8 L522.8,392.4 L521.0,397.2 L518.0,400.2 L516.2,398.4Z" fill="#808080" stroke="#000" stroke-width="1.05" stroke-linejoin="round"/>
<path d="M805.4,166.2 L806.0,174.0 L806.6,180.0 L804.2,186.0 L804.8,192.0 L806.0,196.8 L808.4,201.0 L812.0,202.2 L815.6,201.6 L820.4,202.8 L825.2,202.8 L830.0,204.6 L834.8,207.6 L840.8,209.4 L846.8,210.6 L851.6,211.0 L856.4,210.0 L862.4,208.2 L868.4,205.8 L874.4,204.0 L879.2,202.2 L882.2,200.4 L882.5,199.8 L879.5,198.0 L876.5,196.3 L873.4,194.5 L870.3,192.8 L867.2,191.2 L864.1,189.5 L861.0,187.9 L857.8,186.3 L854.7,184.8 L851.5,183.3 L848.3,181.8 L845.1,180.4 L841.9,178.9 L838.7,177.6 L835.4,176.2 L832.1,174.9 L828.9,173.6 L825.6,172.3 L822.3,171.1 L819.0,169.9 L815.6,168.8 L812.3,167.7 L809.0,166.6 L805.6,165.5Z" fill="#808080" stroke="#000" stroke-width="1.05" stroke-linejoin="round"/>
<path d="M1020.5,651.0 L1013.0,651.0 L1005.5,648.8 L999.5,645.8 L996.5,641.3 L992.8,640.5 L987.5,643.5 L983.8,648.0 L982.3,654.0 L983.0,660.0 L980.8,667.5 L977.8,673.5 L974.0,679.5 L973.3,684.8 L974.8,690.0 L973.3,696.0 L971.8,702.0 L968.8,708.0 L966.5,714.0 L963.5,720.0 L959.0,725.3 L954.5,729.0 L948.5,732.0 L944.0,735.0 L940.3,735.0 L938.0,732.8 L932.0,732.0 L927.5,730.5 L924.5,729.8 L923.8,735.0 L924.5,741.0 L924.2,748.5 L922.3,745.5 L920.0,739.5 L918.5,735.0 L916.3,735.8 L917.0,741.0 L914.8,741.8 L911.8,738.0 L908.0,738.8 L903.5,738.0 L900.5,737.3 L897.5,734.3 L893.0,732.8 L888.5,733.5 L884.0,735.0 L879.5,736.5 L875.0,737.3 L873.5,741.0 L872.8,744.8 L869.8,745.5 L866.0,744.0 L862.3,744.8 L860.8,750.0 L858.5,754.5 L855.5,759.0 L852.5,763.5 L855.2,759.2 L852.8,761.6 L854.0,766.4 L855.8,771.2 L857.0,776.0 L858.2,782.0 L858.8,788.0 L858.2,792.8 L857.0,797.6 L857.6,803.6 L858.8,809.6 L860.0,816.2 L860.6,817.3 L869.2,812.8 L877.8,808.0 L886.2,803.0 L894.5,797.7 L902.6,792.2 L910.6,786.5 L918.4,780.6 L926.1,774.5 L933.6,768.1 L940.8,761.6 L948.0,754.8 L954.9,747.9 L961.6,740.7 L968.1,733.4 L974.4,725.9 L980.5,718.2 L986.4,710.4 L992.1,702.4 L997.5,694.2 L1002.8,685.9 L1007.7,677.5 L1012.5,668.9 L1017.0,660.2 L1021.3,651.3Z" fill="#808080" stroke="#000" stroke-width="1.05" stroke-linejoin="round"/>
<path d="M845.0,721.5 L849.5,720.0 L854.0,722.3 L858.5,726.0 L862.3,729.8 L861.5,732.8 L856.3,733.5 L852.5,736.5 L849.5,739.5 L845.8,737.3 L844.3,732.0 L842.8,727.5Z" fill="#808080" stroke="#000" stroke-width="1.05" stroke-linejoin="round"/>
<path d="M908.8,733.5 L911.8,729.8 L914.8,728.3 L915.5,730.5 L912.5,732.8 L910.3,734.3Z" fill="#808080" stroke="#000" stroke-width="1.05" stroke-linejoin="round"/>
<path d="M743.0,745.7 L746.1,742.1 L751.4,740.5 L756.6,741.0 L759.2,742.6 L758.2,747.3 L756.1,751.5 L752.4,756.2 L748.2,761.0 L744.0,766.2 L741.9,770.4 L740.9,774.1 L738.8,776.7 L738.2,779.9 L735.6,778.8 L733.5,776.7 L731.4,778.3 L728.8,776.7 L729.3,772.5 L731.4,768.3 L733.5,764.1 L734.6,761.5 L736.7,758.9 L738.8,754.7 L740.3,750.5Z" fill="#808080" stroke="#000" stroke-width="1.05" stroke-linejoin="round"/>
<path d="M722.5,776.7 L725.1,776.2 L726.7,778.8 L726.2,782.0 L727.2,785.1 L730.4,787.2 L732.5,789.3 L730.4,791.9 L728.8,795.1 L728.3,799.3 L728.8,804.0 L730.4,805.6 L733.5,810.3 L736.7,814.5 L739.8,819.2 L737.7,819.8 L733.5,815.6 L730.4,811.4 L728.3,808.2 L727.2,805.1 L725.6,807.2 L724.1,805.1 L722.5,801.9 L720.4,800.3 L716.7,799.3 L713.6,801.4 L710.4,802.4 L709.4,799.8 L710.9,796.1 L713.6,793.0 L716.2,791.4 L717.2,787.2 L718.8,783.0 L720.9,779.3Z" fill="#808080" stroke="#000" stroke-width="1.05" stroke-linejoin="round"/>
<path d="M579.3,346.5 L582.0,344.3 L586.4,343.8 L588.4,345.4 L588.1,346.5 L585.9,345.4 L582.6,345.6 L580.4,346.7Z" fill="#222" stroke="#000" stroke-width="0.8" stroke-linejoin="round"/>
<path d="M584.8,390.4 L587.0,389.3 L588.9,389.5 L588.1,391.1 L585.9,391.7Z" fill="#222" stroke="#000" stroke-width="0.8" stroke-linejoin="round"/>
<path d="M571.9,421.6 L573.0,423.6 L572.3,429.1 L571.2,430.4 L570.8,426.9Z" fill="#222" stroke="#000" stroke-width="0.8" stroke-linejoin="round"/>
<path d="M911.1,421.4 L914.2,422.3 L916.0,419.6 L916.9,423.2 L915.1,427.7 L912.4,426.8Z" fill="#222" stroke="#000" stroke-width="0.8" stroke-linejoin="round"/>
<path d="M685.0,762.5 L686.2,760.0 L687.6,762.6Z" fill="#222" stroke="#000" stroke-width="0.8" stroke-linejoin="round"/>
<path d="M751.2,735.5 L752.3,735.8 L752.0,739.5 L751.0,739.0Z" fill="#222" stroke="#000" stroke-width="0.8" stroke-linejoin="round"/>
</g>
<g fill="none" stroke="#1a1a1a" stroke-width="1" stroke-dasharray="1.2 3" clip-path="url(#cc)">
<circle cx="701.5" cy="502.5" r="32.0"/>
<circle cx="701.5" cy="502.5" r="96.7"/>
<circle cx="701.5" cy="502.5" r="163.5"/>
<circle cx="701.5" cy="502.5" r="234.3"/>
<circle cx="701.5" cy="502.5" r="311.0"/>
<line x1="701.5" y1="502.5" x2="701.5" y2="150.1"/>
<line x1="701.5" y1="502.5" x2="877.7" y2="197.3"/>
<line x1="701.5" y1="502.5" x2="1006.7" y2="326.3"/>
<line x1="701.5" y1="502.5" x2="1053.9" y2="502.5"/>
<line x1="701.5" y1="502.5" x2="1006.7" y2="678.7"/>
<line x1="701.5" y1="502.5" x2="877.7" y2="807.7"/>
<line x1="701.5" y1="502.5" x2="701.5" y2="854.9"/>
<line x1="701.5" y1="502.5" x2="525.3" y2="807.7"/>
<line x1="701.5" y1="502.5" x2="396.3" y2="678.7"/>
<line x1="701.5" y1="502.5" x2="349.1" y2="502.5"/>
<line x1="701.5" y1="502.5" x2="396.3" y2="326.3"/>
<line x1="701.5" y1="502.5" x2="525.3" y2="197.3"/>
</g>
<circle cx="701.5" cy="502.5" r="2.4" fill="#000"/>
<line x1="701.5" y1="512.0" x2="701.5" y2="493.0" stroke="#000" stroke-width="0.9"/>
<line x1="699.3" y1="510.7" x2="703.7" y2="494.3" stroke="#000" stroke-width="0.9"/>
<line x1="696.8" y1="510.7" x2="706.2" y2="494.3" stroke="#000" stroke-width="0.9"/>
<line x1="695.5" y1="508.5" x2="707.5" y2="496.5" stroke="#000" stroke-width="0.9"/>
<line x1="693.3" y1="507.2" x2="709.7" y2="497.8" stroke="#000" stroke-width="0.9"/>
<line x1="693.3" y1="504.7" x2="709.7" y2="500.3" stroke="#000" stroke-width="0.9"/>
<line x1="692.0" y1="502.5" x2="711.0" y2="502.5" stroke="#000" stroke-width="0.9"/>
<line x1="693.3" y1="500.3" x2="709.7" y2="504.7" stroke="#000" stroke-width="0.9"/>
<line x1="693.3" y1="497.8" x2="709.7" y2="507.2" stroke="#000" stroke-width="0.9"/>
<line x1="695.5" y1="496.5" x2="707.5" y2="508.5" stroke="#000" stroke-width="0.9"/>
<line x1="696.8" y1="494.3" x2="706.2" y2="510.7" stroke="#000" stroke-width="0.9"/>
<line x1="699.3" y1="494.3" x2="703.7" y2="510.7" stroke="#000" stroke-width="0.9"/>
<line x1="701.5" y1="502.5" x2="701.5" y2="534.5" stroke="#000" stroke-width="1.1"/>
<circle cx="701.5" cy="502.5" r="352.4" fill="none" stroke="#000" stroke-width="1.05"/>
<g font-size="16.67px" fill="#000" opacity="0.99">
<line x1="525.3" y1="807.7" x2="521.6" y2="814.2" stroke="#000" stroke-width="1"/>
<text transform="translate(510.7,833.0) rotate(-330)" text-anchor="middle" x="1.2">150<tspan dx="0.4" dy="-7.2" font-size="13px">o</tspan><tspan dx="0.4" dy="7.2">W</tspan></text>
<line x1="396.3" y1="678.7" x2="389.8" y2="682.4" stroke="#000" stroke-width="1"/>
<text transform="translate(371.0,693.3) rotate(-300)" text-anchor="middle" x="1.2">120<tspan dx="0.4" dy="-7.2" font-size="13px">o</tspan><tspan dx="0.4" dy="7.2">W</tspan></text>
<line x1="349.1" y1="502.5" x2="341.6" y2="502.5" stroke="#000" stroke-width="1"/>
<text transform="translate(337.9,502.5) rotate(-90)" text-anchor="middle" x="1.2">90<tspan dx="0.4" dy="-7.2" font-size="13px">o</tspan><tspan dx="0.4" dy="7.2">W</tspan></text>
<line x1="396.3" y1="326.3" x2="389.8" y2="322.5" stroke="#000" stroke-width="1"/>
<text transform="translate(386.6,320.7) rotate(-60)" text-anchor="middle" x="1.2">60<tspan dx="0.4" dy="-7.2" font-size="13px">o</tspan><tspan dx="0.4" dy="7.2">W</tspan></text>
<line x1="525.3" y1="197.3" x2="521.6" y2="190.8" stroke="#000" stroke-width="1"/>
<text transform="translate(519.7,187.6) rotate(-30)" text-anchor="middle" x="1.2">30<tspan dx="0.4" dy="-7.2" font-size="13px">o</tspan><tspan dx="0.4" dy="7.2">W</tspan></text>
<line x1="701.5" y1="150.1" x2="701.5" y2="142.6" stroke="#000" stroke-width="1"/>
<text transform="translate(701.5,138.9) rotate(0)" text-anchor="middle" x="1.2">0<tspan dx="0.4" dy="-7.2" font-size="13px">o</tspan><tspan dx="0.4" dy="7.2"></tspan></text>
<line x1="877.7" y1="197.3" x2="881.4" y2="190.8" stroke="#000" stroke-width="1"/>
<text transform="translate(883.3,187.6) rotate(30)" text-anchor="middle" x="1.2">30<tspan dx="0.4" dy="-7.2" font-size="13px">o</tspan><tspan dx="0.4" dy="7.2">E</tspan></text>
<line x1="1006.7" y1="326.3" x2="1013.2" y2="322.5" stroke="#000" stroke-width="1"/>
<text transform="translate(1016.4,320.7) rotate(60)" text-anchor="middle" x="1.2">60<tspan dx="0.4" dy="-7.2" font-size="13px">o</tspan><tspan dx="0.4" dy="7.2">E</tspan></text>
<line x1="1053.9" y1="502.5" x2="1061.4" y2="502.5" stroke="#000" stroke-width="1"/>
<text transform="translate(1065.1,502.5) rotate(90)" text-anchor="middle" x="1.2">90<tspan dx="0.4" dy="-7.2" font-size="13px">o</tspan><tspan dx="0.4" dy="7.2">E</tspan></text>
<line x1="1006.7" y1="678.7" x2="1013.2" y2="682.4" stroke="#000" stroke-width="1"/>
<text transform="translate(1032.0,693.3) rotate(-60)" text-anchor="middle" x="1.2">120<tspan dx="0.4" dy="-7.2" font-size="13px">o</tspan><tspan dx="0.4" dy="7.2">E</tspan></text>
<line x1="877.7" y1="807.7" x2="881.4" y2="814.2" stroke="#000" stroke-width="1"/>
<text transform="translate(892.3,833.0) rotate(-30)" text-anchor="middle" x="1.2">150<tspan dx="0.4" dy="-7.2" font-size="13px">o</tspan><tspan dx="0.4" dy="7.2">E</tspan></text>
<line x1="701.5" y1="854.9" x2="701.5" y2="862.4" stroke="#000" stroke-width="1"/>
<text transform="translate(701.5,884.1) rotate(0)" text-anchor="middle" x="1.2">180<tspan dx="0.4" dy="-7.2" font-size="13px">o</tspan><tspan dx="0.4" dy="7.2">W</tspan></text>
</g>
<g font-size="16.67px" fill="#000">
<line x1="693" y1="534.5" x2="707.4" y2="534.5" stroke="#000" stroke-width="1"/>
<text x="716.4" y="545.1">84<tspan dy="-7.2" font-size="13px">o</tspan><tspan dy="7.2">S</tspan></text>
<line x1="690.3" y1="598.5" x2="703.8" y2="598.5" stroke="#000" stroke-width="1"/>
<text x="713.7" y="609.1">72<tspan dy="-7.2" font-size="13px">o</tspan><tspan dy="7.2">S</tspan></text>
<line x1="687.6" y1="665.5" x2="701.1" y2="665.5" stroke="#000" stroke-width="1"/>
<text x="708.4" y="676.1">60<tspan dy="-7.2" font-size="13px">o</tspan><tspan dy="7.2">S</tspan></text>
<line x1="683" y1="736.5" x2="697.3" y2="736.5" stroke="#000" stroke-width="1"/>
<text x="705.2" y="747.1">48<tspan dy="-7.2" font-size="13px">o</tspan><tspan dy="7.2">S</tspan></text>
<line x1="680" y1="813.5" x2="692.6" y2="813.5" stroke="#000" stroke-width="1"/>
<text x="701.2" y="824.1">36<tspan dy="-7.2" font-size="13px">o</tspan><tspan dy="7.2">S</tspan></text>
</g>
<text x="311" y="68" font-size="31.4px" font-weight="bold" fill="#000" textLength="798" lengthAdjust="spacingAndGlyphs">AVHRR Meridional Sea Surface Temperature Gradient</text>
<text x="638.5" y="107.4" font-size="24.6px" font-weight="bold" fill="#000" textLength="126" lengthAdjust="spacingAndGlyphs">2014-12-27</text>
<rect x="376" y="911.3" width="659" height="19.3" fill="url(#cb)" stroke="#262626" stroke-width="1"/>
<g font-size="16.67px" fill="#262626" text-anchor="middle">
<text x="375.8" y="955.8">-0.06</text>
<line x1="485.7" y1="930.5" x2="485.7" y2="924" stroke="#262626" stroke-width="1"/>
<text x="485.7" y="955.8">-0.04</text>
<line x1="595.6" y1="930.5" x2="595.6" y2="924" stroke="#262626" stroke-width="1"/>
<text x="595.6" y="955.8">-0.02</text>
<line x1="705.5" y1="930.5" x2="705.5" y2="924" stroke="#262626" stroke-width="1"/>
<text x="705.5" y="955.8">0</text>
<line x1="815.4" y1="930.5" x2="815.4" y2="924" stroke="#262626" stroke-width="1"/>
<text x="815.4" y="955.8">0.02</text>
<line x1="925.3" y1="930.5" x2="925.3" y2="924" stroke="#262626" stroke-width="1"/>
<text x="925.3" y="955.8">0.04</text>
<text x="1035.2" y="955.8">0.06</text>
<text x="706" y="978.8">°C/km</text>
</g>
</svg></body></html>
